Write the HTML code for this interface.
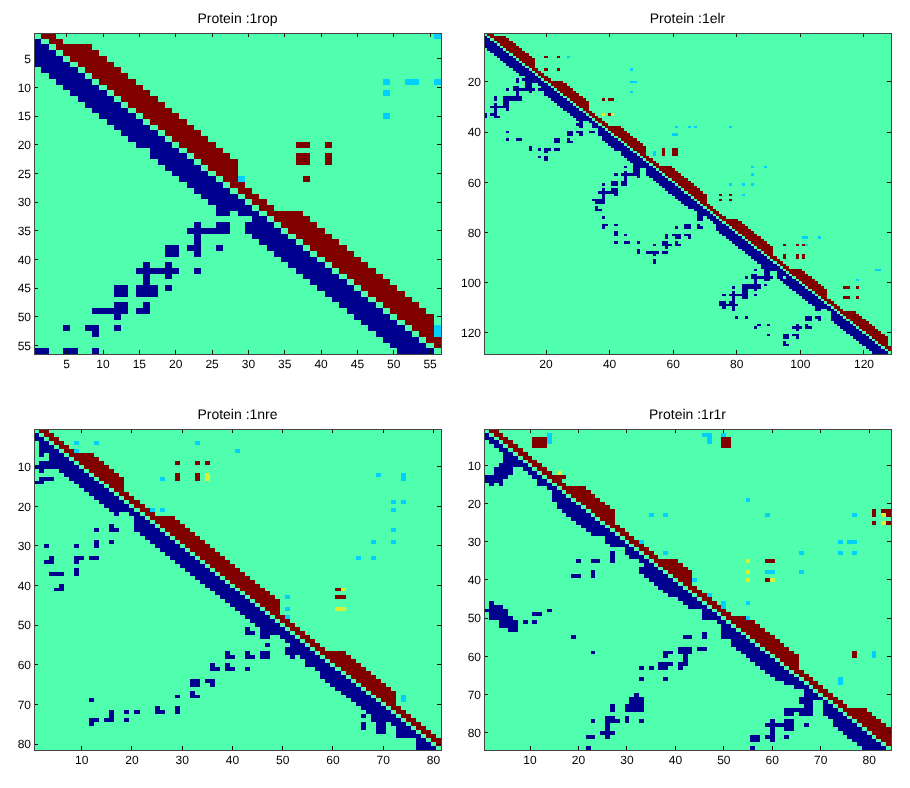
<!DOCTYPE html>
<html><head><meta charset="utf-8"><title>Protein contact maps</title>
<style>
html,body{margin:0;padding:0;background:#fff;}
svg{display:block;will-change:transform;}
.t{font-family:"Liberation Sans",sans-serif;font-size:12px;fill:#000;}
.h{font-family:"Liberation Sans",sans-serif;font-size:14px;fill:#000;}
</style></head><body>
<svg width="910" height="788" viewBox="0 0 910 788" shape-rendering="crispEdges" text-rendering="geometricPrecision">
<rect x="0" y="0" width="910" height="788" fill="#fff"/>
<rect x="34" y="33" width="407" height="321" fill="#50ffad"/>
<rect x="41.27" y="33.00" width="14.54" height="5.73" fill="#800000"/>
<rect x="433.73" y="33.00" width="7.27" height="5.73" fill="#00cfff"/>
<rect x="34.00" y="38.73" width="7.27" height="5.73" fill="#00008f"/>
<rect x="48.54" y="38.73" width="14.54" height="5.73" fill="#800000"/>
<rect x="34.00" y="44.46" width="14.54" height="5.73" fill="#00008f"/>
<rect x="55.80" y="44.46" width="36.34" height="5.73" fill="#800000"/>
<rect x="34.00" y="50.20" width="21.80" height="5.73" fill="#00008f"/>
<rect x="63.07" y="50.20" width="36.34" height="5.73" fill="#800000"/>
<rect x="34.00" y="55.93" width="29.07" height="5.73" fill="#00008f"/>
<rect x="70.34" y="55.93" width="36.34" height="5.73" fill="#800000"/>
<rect x="34.00" y="61.66" width="36.34" height="5.73" fill="#00008f"/>
<rect x="77.61" y="61.66" width="36.34" height="5.73" fill="#800000"/>
<rect x="41.27" y="67.39" width="36.34" height="5.73" fill="#00008f"/>
<rect x="84.88" y="67.39" width="36.34" height="5.73" fill="#800000"/>
<rect x="48.54" y="73.12" width="36.34" height="5.73" fill="#00008f"/>
<rect x="92.14" y="73.12" width="36.34" height="5.73" fill="#800000"/>
<rect x="55.80" y="78.86" width="36.34" height="5.73" fill="#00008f"/>
<rect x="99.41" y="78.86" width="36.34" height="5.73" fill="#800000"/>
<rect x="382.86" y="78.86" width="7.27" height="5.73" fill="#00cfff"/>
<rect x="404.66" y="78.86" width="14.54" height="5.73" fill="#00cfff"/>
<rect x="433.73" y="78.86" width="7.27" height="5.73" fill="#00cfff"/>
<rect x="63.07" y="84.59" width="36.34" height="5.73" fill="#00008f"/>
<rect x="106.68" y="84.59" width="36.34" height="5.73" fill="#800000"/>
<rect x="70.34" y="90.32" width="36.34" height="5.73" fill="#00008f"/>
<rect x="113.95" y="90.32" width="36.34" height="5.73" fill="#800000"/>
<rect x="382.86" y="90.32" width="7.27" height="5.73" fill="#00cfff"/>
<rect x="77.61" y="96.05" width="36.34" height="5.73" fill="#00008f"/>
<rect x="121.21" y="96.05" width="36.34" height="5.73" fill="#800000"/>
<rect x="84.88" y="101.79" width="36.34" height="5.73" fill="#00008f"/>
<rect x="128.48" y="101.79" width="36.34" height="5.73" fill="#800000"/>
<rect x="92.14" y="107.52" width="36.34" height="5.73" fill="#00008f"/>
<rect x="135.75" y="107.52" width="36.34" height="5.73" fill="#800000"/>
<rect x="99.41" y="113.25" width="36.34" height="5.73" fill="#00008f"/>
<rect x="143.02" y="113.25" width="36.34" height="5.73" fill="#800000"/>
<rect x="382.86" y="113.25" width="7.27" height="5.73" fill="#00cfff"/>
<rect x="106.68" y="118.98" width="36.34" height="5.73" fill="#00008f"/>
<rect x="150.29" y="118.98" width="36.34" height="5.73" fill="#800000"/>
<rect x="113.95" y="124.71" width="36.34" height="5.73" fill="#00008f"/>
<rect x="157.55" y="124.71" width="36.34" height="5.73" fill="#800000"/>
<rect x="121.21" y="130.45" width="36.34" height="5.73" fill="#00008f"/>
<rect x="164.82" y="130.45" width="36.34" height="5.73" fill="#800000"/>
<rect x="128.48" y="136.18" width="36.34" height="5.73" fill="#00008f"/>
<rect x="172.09" y="136.18" width="36.34" height="5.73" fill="#800000"/>
<rect x="135.75" y="141.91" width="36.34" height="5.73" fill="#00008f"/>
<rect x="179.36" y="141.91" width="36.34" height="5.73" fill="#800000"/>
<rect x="295.64" y="141.91" width="14.54" height="5.73" fill="#800000"/>
<rect x="324.71" y="141.91" width="7.27" height="5.73" fill="#800000"/>
<rect x="150.29" y="147.64" width="29.07" height="5.73" fill="#00008f"/>
<rect x="186.62" y="147.64" width="36.34" height="5.73" fill="#800000"/>
<rect x="150.29" y="153.38" width="36.34" height="5.73" fill="#00008f"/>
<rect x="193.89" y="153.38" width="36.34" height="5.73" fill="#800000"/>
<rect x="295.64" y="153.38" width="14.54" height="5.73" fill="#800000"/>
<rect x="324.71" y="153.38" width="7.27" height="5.73" fill="#800000"/>
<rect x="157.55" y="159.11" width="36.34" height="5.73" fill="#00008f"/>
<rect x="201.16" y="159.11" width="36.34" height="5.73" fill="#800000"/>
<rect x="295.64" y="159.11" width="14.54" height="5.73" fill="#800000"/>
<rect x="324.71" y="159.11" width="7.27" height="5.73" fill="#800000"/>
<rect x="164.82" y="164.84" width="36.34" height="5.73" fill="#00008f"/>
<rect x="208.43" y="164.84" width="29.07" height="5.73" fill="#800000"/>
<rect x="172.09" y="170.57" width="36.34" height="5.73" fill="#00008f"/>
<rect x="215.70" y="170.57" width="21.80" height="5.73" fill="#800000"/>
<rect x="179.36" y="176.30" width="36.34" height="5.73" fill="#00008f"/>
<rect x="222.96" y="176.30" width="14.54" height="5.73" fill="#800000"/>
<rect x="237.50" y="176.30" width="7.27" height="5.73" fill="#00cfff"/>
<rect x="302.91" y="176.30" width="7.27" height="5.73" fill="#800000"/>
<rect x="186.62" y="182.04" width="36.34" height="5.73" fill="#00008f"/>
<rect x="230.23" y="182.04" width="14.54" height="5.73" fill="#800000"/>
<rect x="193.89" y="187.77" width="36.34" height="5.73" fill="#00008f"/>
<rect x="237.50" y="187.77" width="14.54" height="5.73" fill="#800000"/>
<rect x="201.16" y="193.50" width="36.34" height="5.73" fill="#00008f"/>
<rect x="244.77" y="193.50" width="14.54" height="5.73" fill="#800000"/>
<rect x="208.43" y="199.23" width="36.34" height="5.73" fill="#00008f"/>
<rect x="252.04" y="199.23" width="14.54" height="5.73" fill="#800000"/>
<rect x="215.70" y="204.96" width="36.34" height="5.73" fill="#00008f"/>
<rect x="259.30" y="204.96" width="14.54" height="5.73" fill="#800000"/>
<rect x="215.70" y="210.70" width="14.54" height="5.73" fill="#00008f"/>
<rect x="237.50" y="210.70" width="21.80" height="5.73" fill="#00008f"/>
<rect x="266.57" y="210.70" width="36.34" height="5.73" fill="#800000"/>
<rect x="252.04" y="216.43" width="14.54" height="5.73" fill="#00008f"/>
<rect x="273.84" y="216.43" width="36.34" height="5.73" fill="#800000"/>
<rect x="193.89" y="222.16" width="7.27" height="5.73" fill="#00008f"/>
<rect x="215.70" y="222.16" width="14.54" height="5.73" fill="#00008f"/>
<rect x="244.77" y="222.16" width="29.07" height="5.73" fill="#00008f"/>
<rect x="281.11" y="222.16" width="36.34" height="5.73" fill="#800000"/>
<rect x="186.62" y="227.89" width="43.61" height="5.73" fill="#00008f"/>
<rect x="244.77" y="227.89" width="36.34" height="5.73" fill="#00008f"/>
<rect x="288.38" y="227.89" width="36.34" height="5.73" fill="#800000"/>
<rect x="193.89" y="233.62" width="7.27" height="5.73" fill="#00008f"/>
<rect x="252.04" y="233.62" width="36.34" height="5.73" fill="#00008f"/>
<rect x="295.64" y="233.62" width="36.34" height="5.73" fill="#800000"/>
<rect x="193.89" y="239.36" width="7.27" height="5.73" fill="#00008f"/>
<rect x="259.30" y="239.36" width="36.34" height="5.73" fill="#00008f"/>
<rect x="302.91" y="239.36" width="36.34" height="5.73" fill="#800000"/>
<rect x="164.82" y="245.09" width="14.54" height="5.73" fill="#00008f"/>
<rect x="186.62" y="245.09" width="14.54" height="5.73" fill="#00008f"/>
<rect x="215.70" y="245.09" width="7.27" height="5.73" fill="#00008f"/>
<rect x="266.57" y="245.09" width="36.34" height="5.73" fill="#00008f"/>
<rect x="310.18" y="245.09" width="36.34" height="5.73" fill="#800000"/>
<rect x="164.82" y="250.82" width="14.54" height="5.73" fill="#00008f"/>
<rect x="193.89" y="250.82" width="7.27" height="5.73" fill="#00008f"/>
<rect x="273.84" y="250.82" width="36.34" height="5.73" fill="#00008f"/>
<rect x="317.45" y="250.82" width="36.34" height="5.73" fill="#800000"/>
<rect x="281.11" y="256.55" width="36.34" height="5.73" fill="#00008f"/>
<rect x="324.71" y="256.55" width="36.34" height="5.73" fill="#800000"/>
<rect x="143.02" y="262.29" width="7.27" height="5.73" fill="#00008f"/>
<rect x="164.82" y="262.29" width="7.27" height="5.73" fill="#00008f"/>
<rect x="288.38" y="262.29" width="36.34" height="5.73" fill="#00008f"/>
<rect x="331.98" y="262.29" width="36.34" height="5.73" fill="#800000"/>
<rect x="135.75" y="268.02" width="43.61" height="5.73" fill="#00008f"/>
<rect x="193.89" y="268.02" width="7.27" height="5.73" fill="#00008f"/>
<rect x="295.64" y="268.02" width="36.34" height="5.73" fill="#00008f"/>
<rect x="339.25" y="268.02" width="36.34" height="5.73" fill="#800000"/>
<rect x="143.02" y="273.75" width="7.27" height="5.73" fill="#00008f"/>
<rect x="164.82" y="273.75" width="7.27" height="5.73" fill="#00008f"/>
<rect x="302.91" y="273.75" width="36.34" height="5.73" fill="#00008f"/>
<rect x="346.52" y="273.75" width="36.34" height="5.73" fill="#800000"/>
<rect x="143.02" y="279.48" width="7.27" height="5.73" fill="#00008f"/>
<rect x="310.18" y="279.48" width="36.34" height="5.73" fill="#00008f"/>
<rect x="353.79" y="279.48" width="36.34" height="5.73" fill="#800000"/>
<rect x="113.95" y="285.21" width="14.54" height="5.73" fill="#00008f"/>
<rect x="135.75" y="285.21" width="21.80" height="5.73" fill="#00008f"/>
<rect x="164.82" y="285.21" width="7.27" height="5.73" fill="#00008f"/>
<rect x="317.45" y="285.21" width="36.34" height="5.73" fill="#00008f"/>
<rect x="361.05" y="285.21" width="36.34" height="5.73" fill="#800000"/>
<rect x="113.95" y="290.95" width="14.54" height="5.73" fill="#00008f"/>
<rect x="135.75" y="290.95" width="21.80" height="5.73" fill="#00008f"/>
<rect x="324.71" y="290.95" width="36.34" height="5.73" fill="#00008f"/>
<rect x="368.32" y="290.95" width="36.34" height="5.73" fill="#800000"/>
<rect x="331.98" y="296.68" width="36.34" height="5.73" fill="#00008f"/>
<rect x="375.59" y="296.68" width="36.34" height="5.73" fill="#800000"/>
<rect x="113.95" y="302.41" width="14.54" height="5.73" fill="#00008f"/>
<rect x="143.02" y="302.41" width="7.27" height="5.73" fill="#00008f"/>
<rect x="339.25" y="302.41" width="36.34" height="5.73" fill="#00008f"/>
<rect x="382.86" y="302.41" width="36.34" height="5.73" fill="#800000"/>
<rect x="92.14" y="308.14" width="36.34" height="5.73" fill="#00008f"/>
<rect x="135.75" y="308.14" width="14.54" height="5.73" fill="#00008f"/>
<rect x="346.52" y="308.14" width="36.34" height="5.73" fill="#00008f"/>
<rect x="390.12" y="308.14" width="36.34" height="5.73" fill="#800000"/>
<rect x="113.95" y="313.88" width="7.27" height="5.73" fill="#00008f"/>
<rect x="353.79" y="313.88" width="36.34" height="5.73" fill="#00008f"/>
<rect x="397.39" y="313.88" width="36.34" height="5.73" fill="#800000"/>
<rect x="361.05" y="319.61" width="36.34" height="5.73" fill="#00008f"/>
<rect x="404.66" y="319.61" width="29.07" height="5.73" fill="#800000"/>
<rect x="63.07" y="325.34" width="7.27" height="5.73" fill="#00008f"/>
<rect x="84.88" y="325.34" width="14.54" height="5.73" fill="#00008f"/>
<rect x="113.95" y="325.34" width="7.27" height="5.73" fill="#00008f"/>
<rect x="368.32" y="325.34" width="36.34" height="5.73" fill="#00008f"/>
<rect x="411.93" y="325.34" width="21.80" height="5.73" fill="#800000"/>
<rect x="433.73" y="325.34" width="7.27" height="5.73" fill="#00cfff"/>
<rect x="92.14" y="331.07" width="7.27" height="5.73" fill="#00008f"/>
<rect x="375.59" y="331.07" width="36.34" height="5.73" fill="#00008f"/>
<rect x="419.20" y="331.07" width="14.54" height="5.73" fill="#800000"/>
<rect x="433.73" y="331.07" width="7.27" height="5.73" fill="#00cfff"/>
<rect x="382.86" y="336.80" width="36.34" height="5.73" fill="#00008f"/>
<rect x="426.46" y="336.80" width="14.54" height="5.73" fill="#800000"/>
<rect x="390.12" y="342.54" width="36.34" height="5.73" fill="#00008f"/>
<rect x="433.73" y="342.54" width="7.27" height="5.73" fill="#800000"/>
<rect x="34.00" y="348.27" width="14.54" height="5.73" fill="#00008f"/>
<rect x="63.07" y="348.27" width="14.54" height="5.73" fill="#00008f"/>
<rect x="92.14" y="348.27" width="7.27" height="5.73" fill="#00008f"/>
<rect x="397.39" y="348.27" width="36.34" height="5.73" fill="#00008f"/>
<path d="M66.71 354.00v-4M66.71 33.00v4M34.00 58.79h4M441.00 58.79h-4M103.04 354.00v-4M103.04 33.00v4M34.00 87.46h4M441.00 87.46h-4M139.38 354.00v-4M139.38 33.00v4M34.00 116.12h4M441.00 116.12h-4M175.72 354.00v-4M175.72 33.00v4M34.00 144.78h4M441.00 144.78h-4M212.06 354.00v-4M212.06 33.00v4M34.00 173.44h4M441.00 173.44h-4M248.40 354.00v-4M248.40 33.00v4M34.00 202.10h4M441.00 202.10h-4M284.74 354.00v-4M284.74 33.00v4M34.00 230.76h4M441.00 230.76h-4M321.08 354.00v-4M321.08 33.00v4M34.00 259.42h4M441.00 259.42h-4M357.42 354.00v-4M357.42 33.00v4M34.00 288.08h4M441.00 288.08h-4M393.76 354.00v-4M393.76 33.00v4M34.00 316.74h4M441.00 316.74h-4M430.10 354.00v-4M430.10 33.00v4M34.00 345.40h4M441.00 345.40h-4" stroke="#111" stroke-width="1" fill="none"/>
<rect x="34" y="33" width="407" height="321" fill="none" stroke="#444" stroke-width="1"/>
<text x="66.71" y="368.10" text-anchor="middle" class="t">5</text>
<text x="31.00" y="63.09" text-anchor="end" class="t">5</text>
<text x="103.04" y="368.10" text-anchor="middle" class="t">10</text>
<text x="31.00" y="91.76" text-anchor="end" class="t">10</text>
<text x="139.38" y="368.10" text-anchor="middle" class="t">15</text>
<text x="31.00" y="120.42" text-anchor="end" class="t">15</text>
<text x="175.72" y="368.10" text-anchor="middle" class="t">20</text>
<text x="31.00" y="149.08" text-anchor="end" class="t">20</text>
<text x="212.06" y="368.10" text-anchor="middle" class="t">25</text>
<text x="31.00" y="177.74" text-anchor="end" class="t">25</text>
<text x="248.40" y="368.10" text-anchor="middle" class="t">30</text>
<text x="31.00" y="206.40" text-anchor="end" class="t">30</text>
<text x="284.74" y="368.10" text-anchor="middle" class="t">35</text>
<text x="31.00" y="235.06" text-anchor="end" class="t">35</text>
<text x="321.08" y="368.10" text-anchor="middle" class="t">40</text>
<text x="31.00" y="263.72" text-anchor="end" class="t">40</text>
<text x="357.42" y="368.10" text-anchor="middle" class="t">45</text>
<text x="31.00" y="292.38" text-anchor="end" class="t">45</text>
<text x="393.76" y="368.10" text-anchor="middle" class="t">50</text>
<text x="31.00" y="321.04" text-anchor="end" class="t">50</text>
<text x="430.10" y="368.10" text-anchor="middle" class="t">55</text>
<text x="31.00" y="349.70" text-anchor="end" class="t">55</text>
<text x="237.50" y="23.40" text-anchor="middle" class="h">Protein :1rop</text>
<rect x="484" y="33" width="407" height="321" fill="#50ffad"/>
<rect x="487.18" y="33.00" width="6.36" height="2.51" fill="#800000"/>
<rect x="484.00" y="35.51" width="3.18" height="2.51" fill="#00008f"/>
<rect x="490.36" y="35.51" width="15.90" height="2.51" fill="#800000"/>
<rect x="484.00" y="38.02" width="6.36" height="2.51" fill="#00008f"/>
<rect x="493.54" y="38.02" width="15.90" height="2.51" fill="#800000"/>
<rect x="484.00" y="40.52" width="9.54" height="2.51" fill="#00008f"/>
<rect x="496.72" y="40.52" width="15.90" height="2.51" fill="#800000"/>
<rect x="484.00" y="43.03" width="12.72" height="2.51" fill="#00008f"/>
<rect x="499.90" y="43.03" width="15.90" height="2.51" fill="#800000"/>
<rect x="484.00" y="45.54" width="15.90" height="2.51" fill="#00008f"/>
<rect x="503.08" y="45.54" width="15.90" height="2.51" fill="#800000"/>
<rect x="487.18" y="48.05" width="15.90" height="2.51" fill="#00008f"/>
<rect x="506.26" y="48.05" width="15.90" height="2.51" fill="#800000"/>
<rect x="490.36" y="50.55" width="15.90" height="2.51" fill="#00008f"/>
<rect x="509.44" y="50.55" width="15.90" height="2.51" fill="#800000"/>
<rect x="493.54" y="53.06" width="15.90" height="2.51" fill="#00008f"/>
<rect x="512.62" y="53.06" width="15.90" height="2.51" fill="#800000"/>
<rect x="496.72" y="55.57" width="15.90" height="2.51" fill="#00008f"/>
<rect x="515.80" y="55.57" width="15.90" height="2.51" fill="#800000"/>
<rect x="544.41" y="55.57" width="3.18" height="2.51" fill="#800000"/>
<rect x="557.13" y="55.57" width="3.18" height="2.51" fill="#800000"/>
<rect x="566.67" y="55.57" width="3.18" height="2.51" fill="#00cfff"/>
<rect x="499.90" y="58.08" width="15.90" height="2.51" fill="#00008f"/>
<rect x="518.98" y="58.08" width="15.90" height="2.51" fill="#800000"/>
<rect x="503.08" y="60.59" width="15.90" height="2.51" fill="#00008f"/>
<rect x="522.16" y="60.59" width="12.72" height="2.51" fill="#800000"/>
<rect x="506.26" y="63.09" width="15.90" height="2.51" fill="#00008f"/>
<rect x="525.34" y="63.09" width="9.54" height="2.51" fill="#800000"/>
<rect x="509.44" y="65.60" width="15.90" height="2.51" fill="#00008f"/>
<rect x="528.52" y="65.60" width="6.36" height="2.51" fill="#800000"/>
<rect x="512.62" y="68.11" width="15.90" height="2.51" fill="#00008f"/>
<rect x="531.70" y="68.11" width="6.36" height="2.51" fill="#800000"/>
<rect x="544.41" y="68.11" width="3.18" height="2.51" fill="#800000"/>
<rect x="557.13" y="68.11" width="3.18" height="2.51" fill="#800000"/>
<rect x="630.27" y="68.11" width="3.18" height="2.51" fill="#00cfff"/>
<rect x="515.80" y="70.62" width="15.90" height="2.51" fill="#00008f"/>
<rect x="534.88" y="70.62" width="6.36" height="2.51" fill="#800000"/>
<rect x="518.98" y="73.12" width="15.90" height="2.51" fill="#00008f"/>
<rect x="538.05" y="73.12" width="6.36" height="2.51" fill="#800000"/>
<rect x="525.34" y="75.63" width="12.72" height="2.51" fill="#00008f"/>
<rect x="541.23" y="75.63" width="6.36" height="2.51" fill="#800000"/>
<rect x="515.80" y="78.14" width="3.18" height="2.51" fill="#00008f"/>
<rect x="522.16" y="78.14" width="19.08" height="2.51" fill="#00008f"/>
<rect x="544.41" y="78.14" width="6.36" height="2.51" fill="#800000"/>
<rect x="515.80" y="80.65" width="3.18" height="2.51" fill="#00008f"/>
<rect x="525.34" y="80.65" width="19.08" height="2.51" fill="#00008f"/>
<rect x="547.59" y="80.65" width="15.90" height="2.51" fill="#800000"/>
<rect x="630.27" y="80.65" width="6.36" height="2.51" fill="#00cfff"/>
<rect x="525.34" y="83.16" width="6.36" height="2.51" fill="#00008f"/>
<rect x="538.05" y="83.16" width="9.54" height="2.51" fill="#00008f"/>
<rect x="550.77" y="83.16" width="15.90" height="2.51" fill="#800000"/>
<rect x="512.62" y="85.66" width="6.36" height="2.51" fill="#00008f"/>
<rect x="525.34" y="85.66" width="6.36" height="2.51" fill="#00008f"/>
<rect x="541.23" y="85.66" width="9.54" height="2.51" fill="#00008f"/>
<rect x="553.95" y="85.66" width="15.90" height="2.51" fill="#800000"/>
<rect x="506.26" y="88.17" width="3.18" height="2.51" fill="#00008f"/>
<rect x="512.62" y="88.17" width="22.26" height="2.51" fill="#00008f"/>
<rect x="538.05" y="88.17" width="15.90" height="2.51" fill="#00008f"/>
<rect x="557.13" y="88.17" width="15.90" height="2.51" fill="#800000"/>
<rect x="515.80" y="90.68" width="3.18" height="2.51" fill="#00008f"/>
<rect x="528.52" y="90.68" width="3.18" height="2.51" fill="#00008f"/>
<rect x="544.41" y="90.68" width="12.72" height="2.51" fill="#00008f"/>
<rect x="560.31" y="90.68" width="15.90" height="2.51" fill="#800000"/>
<rect x="630.27" y="90.68" width="3.18" height="2.51" fill="#00cfff"/>
<rect x="515.80" y="93.19" width="3.18" height="2.51" fill="#00008f"/>
<rect x="544.41" y="93.19" width="15.90" height="2.51" fill="#00008f"/>
<rect x="563.49" y="93.19" width="15.90" height="2.51" fill="#800000"/>
<rect x="493.54" y="95.70" width="3.18" height="2.51" fill="#00008f"/>
<rect x="503.08" y="95.70" width="19.08" height="2.51" fill="#00008f"/>
<rect x="547.59" y="95.70" width="15.90" height="2.51" fill="#00008f"/>
<rect x="566.67" y="95.70" width="15.90" height="2.51" fill="#800000"/>
<rect x="493.54" y="98.20" width="3.18" height="2.51" fill="#00008f"/>
<rect x="503.08" y="98.20" width="19.08" height="2.51" fill="#00008f"/>
<rect x="550.77" y="98.20" width="15.90" height="2.51" fill="#00008f"/>
<rect x="569.85" y="98.20" width="15.90" height="2.51" fill="#800000"/>
<rect x="601.65" y="98.20" width="3.18" height="2.51" fill="#800000"/>
<rect x="608.01" y="98.20" width="6.36" height="2.51" fill="#800000"/>
<rect x="503.08" y="100.71" width="6.36" height="2.51" fill="#00008f"/>
<rect x="553.95" y="100.71" width="15.90" height="2.51" fill="#00008f"/>
<rect x="573.03" y="100.71" width="15.90" height="2.51" fill="#800000"/>
<rect x="493.54" y="103.22" width="3.18" height="2.51" fill="#00008f"/>
<rect x="503.08" y="103.22" width="6.36" height="2.51" fill="#00008f"/>
<rect x="557.13" y="103.22" width="15.90" height="2.51" fill="#00008f"/>
<rect x="576.21" y="103.22" width="12.72" height="2.51" fill="#800000"/>
<rect x="490.36" y="105.73" width="19.08" height="2.51" fill="#00008f"/>
<rect x="560.31" y="105.73" width="15.90" height="2.51" fill="#00008f"/>
<rect x="579.39" y="105.73" width="9.54" height="2.51" fill="#800000"/>
<rect x="493.54" y="108.23" width="3.18" height="2.51" fill="#00008f"/>
<rect x="506.26" y="108.23" width="3.18" height="2.51" fill="#00008f"/>
<rect x="563.49" y="108.23" width="15.90" height="2.51" fill="#00008f"/>
<rect x="582.57" y="108.23" width="6.36" height="2.51" fill="#800000"/>
<rect x="493.54" y="110.74" width="3.18" height="2.51" fill="#00008f"/>
<rect x="566.67" y="110.74" width="15.90" height="2.51" fill="#00008f"/>
<rect x="585.75" y="110.74" width="6.36" height="2.51" fill="#800000"/>
<rect x="484.00" y="113.25" width="3.18" height="2.51" fill="#00008f"/>
<rect x="490.36" y="113.25" width="6.36" height="2.51" fill="#00008f"/>
<rect x="569.85" y="113.25" width="15.90" height="2.51" fill="#00008f"/>
<rect x="588.93" y="113.25" width="6.36" height="2.51" fill="#800000"/>
<rect x="601.65" y="113.25" width="3.18" height="2.51" fill="#d8f030"/>
<rect x="608.01" y="113.25" width="3.18" height="2.51" fill="#800000"/>
<rect x="611.19" y="113.25" width="3.18" height="2.51" fill="#d8f030"/>
<rect x="484.00" y="115.76" width="3.18" height="2.51" fill="#00008f"/>
<rect x="493.54" y="115.76" width="6.36" height="2.51" fill="#00008f"/>
<rect x="573.03" y="115.76" width="15.90" height="2.51" fill="#00008f"/>
<rect x="592.11" y="115.76" width="6.36" height="2.51" fill="#800000"/>
<rect x="576.21" y="118.27" width="15.90" height="2.51" fill="#00008f"/>
<rect x="595.29" y="118.27" width="6.36" height="2.51" fill="#800000"/>
<rect x="579.39" y="120.77" width="3.18" height="2.51" fill="#00008f"/>
<rect x="588.93" y="120.77" width="6.36" height="2.51" fill="#00008f"/>
<rect x="598.47" y="120.77" width="6.36" height="2.51" fill="#800000"/>
<rect x="576.21" y="123.28" width="6.36" height="2.51" fill="#00008f"/>
<rect x="592.11" y="123.28" width="6.36" height="2.51" fill="#00008f"/>
<rect x="601.65" y="123.28" width="6.36" height="2.51" fill="#800000"/>
<rect x="579.39" y="125.79" width="3.18" height="2.51" fill="#00008f"/>
<rect x="592.11" y="125.79" width="9.54" height="2.51" fill="#00008f"/>
<rect x="604.83" y="125.79" width="15.90" height="2.51" fill="#800000"/>
<rect x="674.78" y="125.79" width="3.18" height="2.51" fill="#00cfff"/>
<rect x="687.50" y="125.79" width="3.18" height="2.51" fill="#00cfff"/>
<rect x="693.86" y="125.79" width="3.18" height="2.51" fill="#00cfff"/>
<rect x="728.84" y="125.79" width="3.18" height="2.51" fill="#00cfff"/>
<rect x="598.47" y="128.30" width="6.36" height="2.51" fill="#00008f"/>
<rect x="608.01" y="128.30" width="15.90" height="2.51" fill="#800000"/>
<rect x="506.26" y="130.80" width="3.18" height="2.51" fill="#00008f"/>
<rect x="566.67" y="130.80" width="6.36" height="2.51" fill="#00008f"/>
<rect x="576.21" y="130.80" width="6.36" height="2.51" fill="#00008f"/>
<rect x="588.93" y="130.80" width="6.36" height="2.51" fill="#00008f"/>
<rect x="598.47" y="130.80" width="9.54" height="2.51" fill="#00008f"/>
<rect x="611.19" y="130.80" width="15.90" height="2.51" fill="#800000"/>
<rect x="566.67" y="133.31" width="6.36" height="2.51" fill="#00008f"/>
<rect x="579.39" y="133.31" width="3.18" height="2.51" fill="#00008f"/>
<rect x="598.47" y="133.31" width="12.72" height="2.51" fill="#00008f"/>
<rect x="614.37" y="133.31" width="15.90" height="2.51" fill="#800000"/>
<rect x="671.60" y="133.31" width="6.36" height="2.51" fill="#00cfff"/>
<rect x="601.65" y="135.82" width="12.72" height="2.51" fill="#00008f"/>
<rect x="617.55" y="135.82" width="15.90" height="2.51" fill="#800000"/>
<rect x="506.26" y="138.33" width="3.18" height="2.51" fill="#00008f"/>
<rect x="515.80" y="138.33" width="6.36" height="2.51" fill="#00008f"/>
<rect x="553.95" y="138.33" width="6.36" height="2.51" fill="#00008f"/>
<rect x="566.67" y="138.33" width="3.18" height="2.51" fill="#00008f"/>
<rect x="601.65" y="138.33" width="15.90" height="2.51" fill="#00008f"/>
<rect x="620.73" y="138.33" width="15.90" height="2.51" fill="#800000"/>
<rect x="553.95" y="140.84" width="6.36" height="2.51" fill="#00008f"/>
<rect x="566.67" y="140.84" width="6.36" height="2.51" fill="#00008f"/>
<rect x="604.83" y="140.84" width="15.90" height="2.51" fill="#00008f"/>
<rect x="623.91" y="140.84" width="15.90" height="2.51" fill="#800000"/>
<rect x="608.01" y="143.34" width="15.90" height="2.51" fill="#00008f"/>
<rect x="627.09" y="143.34" width="15.90" height="2.51" fill="#800000"/>
<rect x="528.52" y="145.85" width="3.18" height="2.51" fill="#00008f"/>
<rect x="611.19" y="145.85" width="15.90" height="2.51" fill="#00008f"/>
<rect x="630.27" y="145.85" width="15.90" height="2.51" fill="#800000"/>
<rect x="528.52" y="148.36" width="3.18" height="2.51" fill="#00008f"/>
<rect x="538.05" y="148.36" width="3.18" height="2.51" fill="#00008f"/>
<rect x="544.41" y="148.36" width="6.36" height="2.51" fill="#00008f"/>
<rect x="553.95" y="148.36" width="6.36" height="2.51" fill="#00008f"/>
<rect x="614.37" y="148.36" width="15.90" height="2.51" fill="#00008f"/>
<rect x="633.45" y="148.36" width="12.72" height="2.51" fill="#800000"/>
<rect x="662.06" y="148.36" width="3.18" height="2.51" fill="#800000"/>
<rect x="671.60" y="148.36" width="6.36" height="2.51" fill="#800000"/>
<rect x="544.41" y="150.87" width="3.18" height="2.51" fill="#00008f"/>
<rect x="620.73" y="150.87" width="12.72" height="2.51" fill="#00008f"/>
<rect x="636.62" y="150.87" width="9.54" height="2.51" fill="#800000"/>
<rect x="652.52" y="150.87" width="3.18" height="2.51" fill="#00cfff"/>
<rect x="662.06" y="150.87" width="3.18" height="2.51" fill="#800000"/>
<rect x="671.60" y="150.87" width="6.36" height="2.51" fill="#800000"/>
<rect x="620.73" y="153.38" width="15.90" height="2.51" fill="#00008f"/>
<rect x="639.80" y="153.38" width="6.36" height="2.51" fill="#800000"/>
<rect x="652.52" y="153.38" width="3.18" height="2.51" fill="#00cfff"/>
<rect x="662.06" y="153.38" width="3.18" height="2.51" fill="#800000"/>
<rect x="671.60" y="153.38" width="6.36" height="2.51" fill="#800000"/>
<rect x="538.05" y="155.88" width="3.18" height="2.51" fill="#00008f"/>
<rect x="544.41" y="155.88" width="3.18" height="2.51" fill="#00008f"/>
<rect x="623.91" y="155.88" width="15.90" height="2.51" fill="#00008f"/>
<rect x="642.98" y="155.88" width="6.36" height="2.51" fill="#800000"/>
<rect x="544.41" y="158.39" width="3.18" height="2.51" fill="#00008f"/>
<rect x="627.09" y="158.39" width="15.90" height="2.51" fill="#00008f"/>
<rect x="646.16" y="158.39" width="6.36" height="2.51" fill="#800000"/>
<rect x="630.27" y="160.90" width="15.90" height="2.51" fill="#00008f"/>
<rect x="649.34" y="160.90" width="6.36" height="2.51" fill="#800000"/>
<rect x="633.45" y="163.41" width="15.90" height="2.51" fill="#00008f"/>
<rect x="652.52" y="163.41" width="6.36" height="2.51" fill="#800000"/>
<rect x="623.91" y="165.91" width="3.18" height="2.51" fill="#00008f"/>
<rect x="633.45" y="165.91" width="19.08" height="2.51" fill="#00008f"/>
<rect x="655.70" y="165.91" width="15.90" height="2.51" fill="#800000"/>
<rect x="751.09" y="165.91" width="3.18" height="2.51" fill="#00cfff"/>
<rect x="763.81" y="165.91" width="3.18" height="2.51" fill="#00cfff"/>
<rect x="633.45" y="168.42" width="6.36" height="2.51" fill="#00008f"/>
<rect x="646.16" y="168.42" width="9.54" height="2.51" fill="#00008f"/>
<rect x="658.88" y="168.42" width="15.90" height="2.51" fill="#800000"/>
<rect x="623.91" y="170.93" width="3.18" height="2.51" fill="#00008f"/>
<rect x="633.45" y="170.93" width="6.36" height="2.51" fill="#00008f"/>
<rect x="646.16" y="170.93" width="12.72" height="2.51" fill="#00008f"/>
<rect x="662.06" y="170.93" width="15.90" height="2.51" fill="#800000"/>
<rect x="614.37" y="173.44" width="3.18" height="2.51" fill="#00008f"/>
<rect x="620.73" y="173.44" width="19.08" height="2.51" fill="#00008f"/>
<rect x="646.16" y="173.44" width="15.90" height="2.51" fill="#00008f"/>
<rect x="665.24" y="173.44" width="15.90" height="2.51" fill="#800000"/>
<rect x="751.09" y="173.44" width="3.18" height="2.51" fill="#00cfff"/>
<rect x="623.91" y="175.95" width="3.18" height="2.51" fill="#00008f"/>
<rect x="636.62" y="175.95" width="3.18" height="2.51" fill="#00008f"/>
<rect x="649.34" y="175.95" width="15.90" height="2.51" fill="#00008f"/>
<rect x="668.42" y="175.95" width="15.90" height="2.51" fill="#800000"/>
<rect x="623.91" y="178.45" width="3.18" height="2.51" fill="#00008f"/>
<rect x="652.52" y="178.45" width="15.90" height="2.51" fill="#00008f"/>
<rect x="671.60" y="178.45" width="15.90" height="2.51" fill="#800000"/>
<rect x="611.19" y="180.96" width="6.36" height="2.51" fill="#00008f"/>
<rect x="620.73" y="180.96" width="6.36" height="2.51" fill="#00008f"/>
<rect x="655.70" y="180.96" width="15.90" height="2.51" fill="#00008f"/>
<rect x="674.78" y="180.96" width="15.90" height="2.51" fill="#800000"/>
<rect x="601.65" y="183.47" width="3.18" height="2.51" fill="#00008f"/>
<rect x="611.19" y="183.47" width="6.36" height="2.51" fill="#00008f"/>
<rect x="620.73" y="183.47" width="6.36" height="2.51" fill="#00008f"/>
<rect x="658.88" y="183.47" width="15.90" height="2.51" fill="#00008f"/>
<rect x="677.96" y="183.47" width="15.90" height="2.51" fill="#800000"/>
<rect x="728.84" y="183.47" width="3.18" height="2.51" fill="#00cfff"/>
<rect x="741.55" y="183.47" width="3.18" height="2.51" fill="#00cfff"/>
<rect x="751.09" y="183.47" width="3.18" height="2.51" fill="#00cfff"/>
<rect x="662.06" y="185.98" width="15.90" height="2.51" fill="#00008f"/>
<rect x="681.14" y="185.98" width="15.90" height="2.51" fill="#800000"/>
<rect x="601.65" y="188.48" width="3.18" height="2.51" fill="#00008f"/>
<rect x="611.19" y="188.48" width="6.36" height="2.51" fill="#00008f"/>
<rect x="665.24" y="188.48" width="15.90" height="2.51" fill="#00008f"/>
<rect x="684.32" y="188.48" width="15.90" height="2.51" fill="#800000"/>
<rect x="598.47" y="190.99" width="19.08" height="2.51" fill="#00008f"/>
<rect x="668.42" y="190.99" width="15.90" height="2.51" fill="#00008f"/>
<rect x="687.50" y="190.99" width="15.90" height="2.51" fill="#800000"/>
<rect x="601.65" y="193.50" width="3.18" height="2.51" fill="#00008f"/>
<rect x="614.37" y="193.50" width="3.18" height="2.51" fill="#00008f"/>
<rect x="671.60" y="193.50" width="15.90" height="2.51" fill="#00008f"/>
<rect x="690.68" y="193.50" width="15.90" height="2.51" fill="#800000"/>
<rect x="719.30" y="193.50" width="3.18" height="2.51" fill="#800000"/>
<rect x="728.84" y="193.50" width="3.18" height="2.51" fill="#800000"/>
<rect x="741.55" y="193.50" width="3.18" height="2.51" fill="#00cfff"/>
<rect x="601.65" y="196.01" width="3.18" height="2.51" fill="#00008f"/>
<rect x="674.78" y="196.01" width="15.90" height="2.51" fill="#00008f"/>
<rect x="693.86" y="196.01" width="12.72" height="2.51" fill="#800000"/>
<rect x="592.11" y="198.52" width="12.72" height="2.51" fill="#00008f"/>
<rect x="677.96" y="198.52" width="15.90" height="2.51" fill="#00008f"/>
<rect x="697.04" y="198.52" width="9.54" height="2.51" fill="#800000"/>
<rect x="719.30" y="198.52" width="3.18" height="2.51" fill="#800000"/>
<rect x="728.84" y="198.52" width="3.18" height="2.51" fill="#800000"/>
<rect x="595.29" y="201.02" width="9.54" height="2.51" fill="#00008f"/>
<rect x="681.14" y="201.02" width="15.90" height="2.51" fill="#00008f"/>
<rect x="700.22" y="201.02" width="6.36" height="2.51" fill="#800000"/>
<rect x="684.32" y="203.53" width="15.90" height="2.51" fill="#00008f"/>
<rect x="703.40" y="203.53" width="6.36" height="2.51" fill="#800000"/>
<rect x="595.29" y="206.04" width="3.18" height="2.51" fill="#00008f"/>
<rect x="687.50" y="206.04" width="15.90" height="2.51" fill="#00008f"/>
<rect x="706.58" y="206.04" width="6.36" height="2.51" fill="#800000"/>
<rect x="595.29" y="208.55" width="6.36" height="2.51" fill="#00008f"/>
<rect x="693.86" y="208.55" width="12.72" height="2.51" fill="#00008f"/>
<rect x="709.76" y="208.55" width="6.36" height="2.51" fill="#800000"/>
<rect x="697.04" y="211.05" width="12.72" height="2.51" fill="#00008f"/>
<rect x="712.94" y="211.05" width="6.36" height="2.51" fill="#800000"/>
<rect x="697.04" y="213.56" width="15.90" height="2.51" fill="#00008f"/>
<rect x="716.12" y="213.56" width="6.36" height="2.51" fill="#800000"/>
<rect x="601.65" y="216.07" width="3.18" height="2.51" fill="#00008f"/>
<rect x="697.04" y="216.07" width="6.36" height="2.51" fill="#00008f"/>
<rect x="706.58" y="216.07" width="9.54" height="2.51" fill="#00008f"/>
<rect x="719.30" y="216.07" width="6.36" height="2.51" fill="#800000"/>
<rect x="697.04" y="218.58" width="6.36" height="2.51" fill="#00008f"/>
<rect x="709.76" y="218.58" width="9.54" height="2.51" fill="#00008f"/>
<rect x="722.48" y="218.58" width="15.90" height="2.51" fill="#800000"/>
<rect x="712.94" y="221.09" width="9.54" height="2.51" fill="#00008f"/>
<rect x="725.66" y="221.09" width="15.90" height="2.51" fill="#800000"/>
<rect x="601.65" y="223.59" width="6.36" height="2.51" fill="#00008f"/>
<rect x="614.37" y="223.59" width="3.18" height="2.51" fill="#00008f"/>
<rect x="684.32" y="223.59" width="6.36" height="2.51" fill="#00008f"/>
<rect x="697.04" y="223.59" width="3.18" height="2.51" fill="#00008f"/>
<rect x="716.12" y="223.59" width="9.54" height="2.51" fill="#00008f"/>
<rect x="728.84" y="223.59" width="15.90" height="2.51" fill="#800000"/>
<rect x="601.65" y="226.10" width="3.18" height="2.51" fill="#00008f"/>
<rect x="674.78" y="226.10" width="3.18" height="2.51" fill="#00008f"/>
<rect x="684.32" y="226.10" width="6.36" height="2.51" fill="#00008f"/>
<rect x="697.04" y="226.10" width="6.36" height="2.51" fill="#00008f"/>
<rect x="716.12" y="226.10" width="12.72" height="2.51" fill="#00008f"/>
<rect x="732.02" y="226.10" width="15.90" height="2.51" fill="#800000"/>
<rect x="716.12" y="228.61" width="15.90" height="2.51" fill="#00008f"/>
<rect x="735.20" y="228.61" width="15.90" height="2.51" fill="#800000"/>
<rect x="614.37" y="231.12" width="3.18" height="2.51" fill="#00008f"/>
<rect x="719.30" y="231.12" width="15.90" height="2.51" fill="#00008f"/>
<rect x="738.38" y="231.12" width="15.90" height="2.51" fill="#800000"/>
<rect x="614.37" y="233.62" width="3.18" height="2.51" fill="#00008f"/>
<rect x="623.91" y="233.62" width="3.18" height="2.51" fill="#00008f"/>
<rect x="665.24" y="233.62" width="3.18" height="2.51" fill="#00008f"/>
<rect x="671.60" y="233.62" width="9.54" height="2.51" fill="#00008f"/>
<rect x="684.32" y="233.62" width="6.36" height="2.51" fill="#00008f"/>
<rect x="722.48" y="233.62" width="15.90" height="2.51" fill="#00008f"/>
<rect x="741.55" y="233.62" width="15.90" height="2.51" fill="#800000"/>
<rect x="665.24" y="236.13" width="3.18" height="2.51" fill="#00008f"/>
<rect x="674.78" y="236.13" width="6.36" height="2.51" fill="#00008f"/>
<rect x="687.50" y="236.13" width="3.18" height="2.51" fill="#00008f"/>
<rect x="725.66" y="236.13" width="15.90" height="2.51" fill="#00008f"/>
<rect x="744.73" y="236.13" width="15.90" height="2.51" fill="#800000"/>
<rect x="801.97" y="236.13" width="6.36" height="2.51" fill="#00cfff"/>
<rect x="817.87" y="236.13" width="3.18" height="2.51" fill="#00cfff"/>
<rect x="728.84" y="238.64" width="15.90" height="2.51" fill="#00008f"/>
<rect x="747.91" y="238.64" width="15.90" height="2.51" fill="#800000"/>
<rect x="614.37" y="241.15" width="3.18" height="2.51" fill="#00008f"/>
<rect x="623.91" y="241.15" width="6.36" height="2.51" fill="#00008f"/>
<rect x="636.62" y="241.15" width="3.18" height="2.51" fill="#00008f"/>
<rect x="662.06" y="241.15" width="6.36" height="2.51" fill="#00008f"/>
<rect x="674.78" y="241.15" width="3.18" height="2.51" fill="#00008f"/>
<rect x="732.02" y="241.15" width="15.90" height="2.51" fill="#00008f"/>
<rect x="751.09" y="241.15" width="15.90" height="2.51" fill="#800000"/>
<rect x="652.52" y="243.66" width="3.18" height="2.51" fill="#00008f"/>
<rect x="662.06" y="243.66" width="9.54" height="2.51" fill="#00008f"/>
<rect x="674.78" y="243.66" width="6.36" height="2.51" fill="#00008f"/>
<rect x="735.20" y="243.66" width="15.90" height="2.51" fill="#00008f"/>
<rect x="754.27" y="243.66" width="15.90" height="2.51" fill="#800000"/>
<rect x="782.89" y="243.66" width="3.18" height="2.51" fill="#800000"/>
<rect x="795.61" y="243.66" width="3.18" height="2.51" fill="#800000"/>
<rect x="801.97" y="243.66" width="3.18" height="2.51" fill="#800000"/>
<rect x="805.15" y="243.66" width="3.18" height="2.51" fill="#00cfff"/>
<rect x="665.24" y="246.16" width="3.18" height="2.51" fill="#00008f"/>
<rect x="738.38" y="246.16" width="15.90" height="2.51" fill="#00008f"/>
<rect x="757.45" y="246.16" width="15.90" height="2.51" fill="#800000"/>
<rect x="636.62" y="248.67" width="3.18" height="2.51" fill="#00008f"/>
<rect x="741.55" y="248.67" width="15.90" height="2.51" fill="#00008f"/>
<rect x="760.63" y="248.67" width="12.72" height="2.51" fill="#800000"/>
<rect x="636.62" y="251.18" width="3.18" height="2.51" fill="#00008f"/>
<rect x="646.16" y="251.18" width="12.72" height="2.51" fill="#00008f"/>
<rect x="662.06" y="251.18" width="6.36" height="2.51" fill="#00008f"/>
<rect x="744.73" y="251.18" width="15.90" height="2.51" fill="#00008f"/>
<rect x="763.81" y="251.18" width="9.54" height="2.51" fill="#800000"/>
<rect x="652.52" y="253.69" width="3.18" height="2.51" fill="#00008f"/>
<rect x="747.91" y="253.69" width="15.90" height="2.51" fill="#00008f"/>
<rect x="766.99" y="253.69" width="6.36" height="2.51" fill="#800000"/>
<rect x="782.89" y="253.69" width="3.18" height="2.51" fill="#800000"/>
<rect x="795.61" y="253.69" width="3.18" height="2.51" fill="#800000"/>
<rect x="801.97" y="253.69" width="3.18" height="2.51" fill="#800000"/>
<rect x="751.09" y="256.20" width="15.90" height="2.51" fill="#00008f"/>
<rect x="770.17" y="256.20" width="6.36" height="2.51" fill="#800000"/>
<rect x="782.89" y="256.20" width="3.18" height="2.51" fill="#800000"/>
<rect x="795.61" y="256.20" width="3.18" height="2.51" fill="#800000"/>
<rect x="801.97" y="256.20" width="3.18" height="2.51" fill="#800000"/>
<rect x="652.52" y="258.70" width="3.18" height="2.51" fill="#00008f"/>
<rect x="754.27" y="258.70" width="15.90" height="2.51" fill="#00008f"/>
<rect x="773.35" y="258.70" width="6.36" height="2.51" fill="#800000"/>
<rect x="652.52" y="261.21" width="3.18" height="2.51" fill="#00008f"/>
<rect x="757.45" y="261.21" width="15.90" height="2.51" fill="#00008f"/>
<rect x="776.53" y="261.21" width="6.36" height="2.51" fill="#800000"/>
<rect x="760.63" y="263.72" width="15.90" height="2.51" fill="#00008f"/>
<rect x="779.71" y="263.72" width="6.36" height="2.51" fill="#800000"/>
<rect x="760.63" y="266.23" width="19.08" height="2.51" fill="#00008f"/>
<rect x="782.89" y="266.23" width="6.36" height="2.51" fill="#800000"/>
<rect x="754.27" y="268.73" width="3.18" height="2.51" fill="#00008f"/>
<rect x="763.81" y="268.73" width="19.08" height="2.51" fill="#00008f"/>
<rect x="786.07" y="268.73" width="15.90" height="2.51" fill="#800000"/>
<rect x="875.10" y="268.73" width="6.36" height="2.51" fill="#00cfff"/>
<rect x="763.81" y="271.24" width="6.36" height="2.51" fill="#00008f"/>
<rect x="776.53" y="271.24" width="9.54" height="2.51" fill="#00008f"/>
<rect x="789.25" y="271.24" width="15.90" height="2.51" fill="#800000"/>
<rect x="751.09" y="273.75" width="6.36" height="2.51" fill="#00008f"/>
<rect x="763.81" y="273.75" width="6.36" height="2.51" fill="#00008f"/>
<rect x="776.53" y="273.75" width="12.72" height="2.51" fill="#00008f"/>
<rect x="792.43" y="273.75" width="15.90" height="2.51" fill="#800000"/>
<rect x="744.73" y="276.26" width="3.18" height="2.51" fill="#00008f"/>
<rect x="751.09" y="276.26" width="22.26" height="2.51" fill="#00008f"/>
<rect x="776.53" y="276.26" width="6.36" height="2.51" fill="#00008f"/>
<rect x="786.07" y="276.26" width="6.36" height="2.51" fill="#00008f"/>
<rect x="795.61" y="276.26" width="15.90" height="2.51" fill="#800000"/>
<rect x="754.27" y="278.77" width="3.18" height="2.51" fill="#00008f"/>
<rect x="763.81" y="278.77" width="6.36" height="2.51" fill="#00008f"/>
<rect x="779.71" y="278.77" width="15.90" height="2.51" fill="#00008f"/>
<rect x="798.79" y="278.77" width="15.90" height="2.51" fill="#800000"/>
<rect x="856.02" y="278.77" width="3.18" height="2.51" fill="#00cfff"/>
<rect x="754.27" y="281.27" width="3.18" height="2.51" fill="#00008f"/>
<rect x="782.89" y="281.27" width="15.90" height="2.51" fill="#00008f"/>
<rect x="801.97" y="281.27" width="15.90" height="2.51" fill="#800000"/>
<rect x="741.55" y="283.78" width="19.08" height="2.51" fill="#00008f"/>
<rect x="763.81" y="283.78" width="3.18" height="2.51" fill="#00008f"/>
<rect x="786.07" y="283.78" width="15.90" height="2.51" fill="#00008f"/>
<rect x="805.15" y="283.78" width="15.90" height="2.51" fill="#800000"/>
<rect x="732.02" y="286.29" width="3.18" height="2.51" fill="#00008f"/>
<rect x="741.55" y="286.29" width="19.08" height="2.51" fill="#00008f"/>
<rect x="789.25" y="286.29" width="15.90" height="2.51" fill="#00008f"/>
<rect x="808.33" y="286.29" width="15.90" height="2.51" fill="#800000"/>
<rect x="843.30" y="286.29" width="6.36" height="2.51" fill="#800000"/>
<rect x="856.02" y="286.29" width="3.18" height="2.51" fill="#800000"/>
<rect x="741.55" y="288.80" width="6.36" height="2.51" fill="#00008f"/>
<rect x="754.27" y="288.80" width="3.18" height="2.51" fill="#00008f"/>
<rect x="792.43" y="288.80" width="15.90" height="2.51" fill="#00008f"/>
<rect x="811.51" y="288.80" width="15.90" height="2.51" fill="#800000"/>
<rect x="732.02" y="291.30" width="3.18" height="2.51" fill="#00008f"/>
<rect x="741.55" y="291.30" width="6.36" height="2.51" fill="#00008f"/>
<rect x="795.61" y="291.30" width="15.90" height="2.51" fill="#00008f"/>
<rect x="814.69" y="291.30" width="12.72" height="2.51" fill="#800000"/>
<rect x="722.48" y="293.81" width="3.18" height="2.51" fill="#00008f"/>
<rect x="728.84" y="293.81" width="19.08" height="2.51" fill="#00008f"/>
<rect x="754.27" y="293.81" width="3.18" height="2.51" fill="#00008f"/>
<rect x="798.79" y="293.81" width="15.90" height="2.51" fill="#00008f"/>
<rect x="817.87" y="293.81" width="9.54" height="2.51" fill="#800000"/>
<rect x="732.02" y="296.32" width="3.18" height="2.51" fill="#00008f"/>
<rect x="741.55" y="296.32" width="6.36" height="2.51" fill="#00008f"/>
<rect x="801.97" y="296.32" width="15.90" height="2.51" fill="#00008f"/>
<rect x="821.05" y="296.32" width="6.36" height="2.51" fill="#800000"/>
<rect x="843.30" y="296.32" width="6.36" height="2.51" fill="#800000"/>
<rect x="856.02" y="296.32" width="3.18" height="2.51" fill="#800000"/>
<rect x="732.02" y="298.83" width="3.18" height="2.51" fill="#00008f"/>
<rect x="805.15" y="298.83" width="15.90" height="2.51" fill="#00008f"/>
<rect x="824.23" y="298.83" width="6.36" height="2.51" fill="#800000"/>
<rect x="719.30" y="301.34" width="6.36" height="2.51" fill="#00008f"/>
<rect x="728.84" y="301.34" width="6.36" height="2.51" fill="#00008f"/>
<rect x="808.33" y="301.34" width="15.90" height="2.51" fill="#00008f"/>
<rect x="827.41" y="301.34" width="6.36" height="2.51" fill="#800000"/>
<rect x="719.30" y="303.84" width="19.08" height="2.51" fill="#00008f"/>
<rect x="811.51" y="303.84" width="15.90" height="2.51" fill="#00008f"/>
<rect x="830.59" y="303.84" width="6.36" height="2.51" fill="#800000"/>
<rect x="722.48" y="306.35" width="3.18" height="2.51" fill="#00008f"/>
<rect x="732.02" y="306.35" width="3.18" height="2.51" fill="#00008f"/>
<rect x="814.69" y="306.35" width="15.90" height="2.51" fill="#00008f"/>
<rect x="833.77" y="306.35" width="6.36" height="2.51" fill="#800000"/>
<rect x="732.02" y="308.86" width="3.18" height="2.51" fill="#00008f"/>
<rect x="814.69" y="308.86" width="6.36" height="2.51" fill="#00008f"/>
<rect x="827.41" y="308.86" width="6.36" height="2.51" fill="#00008f"/>
<rect x="836.95" y="308.86" width="6.36" height="2.51" fill="#800000"/>
<rect x="830.59" y="311.37" width="6.36" height="2.51" fill="#00008f"/>
<rect x="840.12" y="311.37" width="15.90" height="2.51" fill="#800000"/>
<rect x="830.59" y="313.88" width="9.54" height="2.51" fill="#00008f"/>
<rect x="843.30" y="313.88" width="15.90" height="2.51" fill="#800000"/>
<rect x="735.20" y="316.38" width="3.18" height="2.51" fill="#00008f"/>
<rect x="744.73" y="316.38" width="3.18" height="2.51" fill="#00008f"/>
<rect x="805.15" y="316.38" width="6.36" height="2.51" fill="#00008f"/>
<rect x="814.69" y="316.38" width="6.36" height="2.51" fill="#00008f"/>
<rect x="830.59" y="316.38" width="12.72" height="2.51" fill="#00008f"/>
<rect x="846.48" y="316.38" width="15.90" height="2.51" fill="#800000"/>
<rect x="805.15" y="318.89" width="6.36" height="2.51" fill="#00008f"/>
<rect x="817.87" y="318.89" width="3.18" height="2.51" fill="#00008f"/>
<rect x="830.59" y="318.89" width="15.90" height="2.51" fill="#00008f"/>
<rect x="849.66" y="318.89" width="15.90" height="2.51" fill="#800000"/>
<rect x="833.77" y="321.40" width="15.90" height="2.51" fill="#00008f"/>
<rect x="852.84" y="321.40" width="15.90" height="2.51" fill="#800000"/>
<rect x="757.45" y="323.91" width="3.18" height="2.51" fill="#00008f"/>
<rect x="766.99" y="323.91" width="3.18" height="2.51" fill="#00008f"/>
<rect x="795.61" y="323.91" width="3.18" height="2.51" fill="#00008f"/>
<rect x="805.15" y="323.91" width="3.18" height="2.51" fill="#00008f"/>
<rect x="836.95" y="323.91" width="15.90" height="2.51" fill="#00008f"/>
<rect x="856.02" y="323.91" width="15.90" height="2.51" fill="#800000"/>
<rect x="754.27" y="326.41" width="3.18" height="2.51" fill="#00008f"/>
<rect x="792.43" y="326.41" width="9.54" height="2.51" fill="#00008f"/>
<rect x="805.15" y="326.41" width="6.36" height="2.51" fill="#00008f"/>
<rect x="840.12" y="326.41" width="15.90" height="2.51" fill="#00008f"/>
<rect x="859.20" y="326.41" width="15.90" height="2.51" fill="#800000"/>
<rect x="795.61" y="328.92" width="3.18" height="2.51" fill="#00008f"/>
<rect x="843.30" y="328.92" width="15.90" height="2.51" fill="#00008f"/>
<rect x="862.38" y="328.92" width="15.90" height="2.51" fill="#800000"/>
<rect x="846.48" y="331.43" width="15.90" height="2.51" fill="#00008f"/>
<rect x="865.56" y="331.43" width="15.90" height="2.51" fill="#800000"/>
<rect x="766.99" y="333.94" width="3.18" height="2.51" fill="#00008f"/>
<rect x="782.89" y="333.94" width="6.36" height="2.51" fill="#00008f"/>
<rect x="792.43" y="333.94" width="6.36" height="2.51" fill="#00008f"/>
<rect x="849.66" y="333.94" width="15.90" height="2.51" fill="#00008f"/>
<rect x="868.74" y="333.94" width="15.90" height="2.51" fill="#800000"/>
<rect x="782.89" y="336.45" width="6.36" height="2.51" fill="#00008f"/>
<rect x="795.61" y="336.45" width="3.18" height="2.51" fill="#00008f"/>
<rect x="852.84" y="336.45" width="15.90" height="2.51" fill="#00008f"/>
<rect x="871.92" y="336.45" width="15.90" height="2.51" fill="#800000"/>
<rect x="856.02" y="338.95" width="15.90" height="2.51" fill="#00008f"/>
<rect x="875.10" y="338.95" width="12.72" height="2.51" fill="#800000"/>
<rect x="782.89" y="341.46" width="3.18" height="2.51" fill="#00008f"/>
<rect x="859.20" y="341.46" width="15.90" height="2.51" fill="#00008f"/>
<rect x="878.28" y="341.46" width="9.54" height="2.51" fill="#800000"/>
<rect x="782.89" y="343.97" width="6.36" height="2.51" fill="#00008f"/>
<rect x="862.38" y="343.97" width="15.90" height="2.51" fill="#00008f"/>
<rect x="881.46" y="343.97" width="6.36" height="2.51" fill="#800000"/>
<rect x="865.56" y="346.48" width="15.90" height="2.51" fill="#00008f"/>
<rect x="884.64" y="346.48" width="6.36" height="2.51" fill="#800000"/>
<rect x="868.74" y="348.98" width="15.90" height="2.51" fill="#00008f"/>
<rect x="887.82" y="348.98" width="3.18" height="2.51" fill="#800000"/>
<rect x="871.92" y="351.49" width="15.90" height="2.51" fill="#00008f"/>
<path d="M546.00 354.00v-4M546.00 33.00v4M484.00 81.90h4M891.00 81.90h-4M609.60 354.00v-4M609.60 33.00v4M484.00 132.06h4M891.00 132.06h-4M673.19 354.00v-4M673.19 33.00v4M484.00 182.21h4M891.00 182.21h-4M736.79 354.00v-4M736.79 33.00v4M484.00 232.37h4M891.00 232.37h-4M800.38 354.00v-4M800.38 33.00v4M484.00 282.53h4M891.00 282.53h-4M863.97 354.00v-4M863.97 33.00v4M484.00 332.68h4M891.00 332.68h-4" stroke="#111" stroke-width="1" fill="none"/>
<rect x="484" y="33" width="407" height="321" fill="none" stroke="#444" stroke-width="1"/>
<text x="546.00" y="368.10" text-anchor="middle" class="t">20</text>
<text x="481.00" y="86.20" text-anchor="end" class="t">20</text>
<text x="609.60" y="368.10" text-anchor="middle" class="t">40</text>
<text x="481.00" y="136.36" text-anchor="end" class="t">40</text>
<text x="673.19" y="368.10" text-anchor="middle" class="t">60</text>
<text x="481.00" y="186.51" text-anchor="end" class="t">60</text>
<text x="736.79" y="368.10" text-anchor="middle" class="t">80</text>
<text x="481.00" y="236.67" text-anchor="end" class="t">80</text>
<text x="800.38" y="368.10" text-anchor="middle" class="t">100</text>
<text x="481.00" y="286.83" text-anchor="end" class="t">100</text>
<text x="863.97" y="368.10" text-anchor="middle" class="t">120</text>
<text x="481.00" y="336.98" text-anchor="end" class="t">120</text>
<text x="687.50" y="23.40" text-anchor="middle" class="h">Protein :1elr</text>
<rect x="34" y="429" width="407" height="321" fill="#50ffad"/>
<rect x="39.02" y="429.00" width="10.05" height="3.96" fill="#800000"/>
<rect x="34.00" y="432.96" width="5.02" height="3.96" fill="#00008f"/>
<rect x="44.05" y="432.96" width="10.05" height="3.96" fill="#800000"/>
<rect x="34.00" y="436.93" width="10.05" height="3.96" fill="#00008f"/>
<rect x="49.07" y="436.93" width="10.05" height="3.96" fill="#800000"/>
<rect x="39.02" y="440.89" width="10.05" height="3.96" fill="#00008f"/>
<rect x="54.10" y="440.89" width="10.05" height="3.96" fill="#800000"/>
<rect x="74.20" y="440.89" width="5.02" height="3.96" fill="#00cfff"/>
<rect x="94.30" y="440.89" width="5.02" height="3.96" fill="#00cfff"/>
<rect x="194.79" y="440.89" width="5.02" height="3.96" fill="#00cfff"/>
<rect x="39.02" y="444.85" width="15.07" height="3.96" fill="#00008f"/>
<rect x="59.12" y="444.85" width="10.05" height="3.96" fill="#800000"/>
<rect x="39.02" y="448.81" width="20.10" height="3.96" fill="#00008f"/>
<rect x="64.15" y="448.81" width="10.05" height="3.96" fill="#800000"/>
<rect x="74.20" y="448.81" width="5.02" height="3.96" fill="#00cfff"/>
<rect x="234.99" y="448.81" width="5.02" height="3.96" fill="#00cfff"/>
<rect x="39.02" y="452.78" width="5.02" height="3.96" fill="#00008f"/>
<rect x="49.07" y="452.78" width="15.07" height="3.96" fill="#00008f"/>
<rect x="69.17" y="452.78" width="25.12" height="3.96" fill="#800000"/>
<rect x="49.07" y="456.74" width="20.10" height="3.96" fill="#00008f"/>
<rect x="74.20" y="456.74" width="25.12" height="3.96" fill="#800000"/>
<rect x="39.02" y="460.70" width="35.17" height="3.96" fill="#00008f"/>
<rect x="79.22" y="460.70" width="25.12" height="3.96" fill="#800000"/>
<rect x="174.69" y="460.70" width="5.02" height="3.96" fill="#800000"/>
<rect x="194.79" y="460.70" width="5.02" height="3.96" fill="#800000"/>
<rect x="204.84" y="460.70" width="5.02" height="3.96" fill="#800000"/>
<rect x="34.00" y="464.67" width="45.22" height="3.96" fill="#00008f"/>
<rect x="84.25" y="464.67" width="25.12" height="3.96" fill="#800000"/>
<rect x="39.02" y="468.63" width="5.02" height="3.96" fill="#00008f"/>
<rect x="59.12" y="468.63" width="25.12" height="3.96" fill="#00008f"/>
<rect x="89.27" y="468.63" width="25.12" height="3.96" fill="#800000"/>
<rect x="64.15" y="472.59" width="25.12" height="3.96" fill="#00008f"/>
<rect x="94.30" y="472.59" width="25.12" height="3.96" fill="#800000"/>
<rect x="174.69" y="472.59" width="5.02" height="3.96" fill="#800000"/>
<rect x="194.79" y="472.59" width="5.02" height="3.96" fill="#800000"/>
<rect x="204.84" y="472.59" width="5.02" height="3.96" fill="#d8f030"/>
<rect x="375.68" y="472.59" width="5.02" height="3.96" fill="#00cfff"/>
<rect x="400.80" y="472.59" width="5.02" height="3.96" fill="#00cfff"/>
<rect x="39.02" y="476.56" width="15.07" height="3.96" fill="#00008f"/>
<rect x="69.17" y="476.56" width="25.12" height="3.96" fill="#00008f"/>
<rect x="99.32" y="476.56" width="25.12" height="3.96" fill="#800000"/>
<rect x="159.62" y="476.56" width="5.02" height="3.96" fill="#00cfff"/>
<rect x="174.69" y="476.56" width="5.02" height="3.96" fill="#800000"/>
<rect x="194.79" y="476.56" width="5.02" height="3.96" fill="#800000"/>
<rect x="204.84" y="476.56" width="5.02" height="3.96" fill="#d8f030"/>
<rect x="400.80" y="476.56" width="5.02" height="3.96" fill="#00cfff"/>
<rect x="34.00" y="480.52" width="10.05" height="3.96" fill="#00008f"/>
<rect x="74.20" y="480.52" width="25.12" height="3.96" fill="#00008f"/>
<rect x="104.35" y="480.52" width="20.10" height="3.96" fill="#800000"/>
<rect x="79.22" y="484.48" width="25.12" height="3.96" fill="#00008f"/>
<rect x="109.37" y="484.48" width="15.07" height="3.96" fill="#800000"/>
<rect x="84.25" y="488.44" width="25.12" height="3.96" fill="#00008f"/>
<rect x="114.40" y="488.44" width="10.05" height="3.96" fill="#800000"/>
<rect x="89.27" y="492.41" width="25.12" height="3.96" fill="#00008f"/>
<rect x="119.42" y="492.41" width="10.05" height="3.96" fill="#800000"/>
<rect x="94.30" y="496.37" width="25.12" height="3.96" fill="#00008f"/>
<rect x="124.44" y="496.37" width="10.05" height="3.96" fill="#800000"/>
<rect x="99.32" y="500.33" width="25.12" height="3.96" fill="#00008f"/>
<rect x="129.47" y="500.33" width="10.05" height="3.96" fill="#800000"/>
<rect x="390.75" y="500.33" width="5.02" height="3.96" fill="#00cfff"/>
<rect x="400.80" y="500.33" width="5.02" height="3.96" fill="#00cfff"/>
<rect x="104.35" y="504.30" width="25.12" height="3.96" fill="#00008f"/>
<rect x="134.49" y="504.30" width="10.05" height="3.96" fill="#800000"/>
<rect x="109.37" y="508.26" width="25.12" height="3.96" fill="#00008f"/>
<rect x="139.52" y="508.26" width="10.05" height="3.96" fill="#800000"/>
<rect x="149.57" y="508.26" width="5.02" height="3.96" fill="#00cfff"/>
<rect x="159.62" y="508.26" width="5.02" height="3.96" fill="#00cfff"/>
<rect x="390.75" y="508.26" width="5.02" height="3.96" fill="#00cfff"/>
<rect x="114.40" y="512.22" width="5.02" height="3.96" fill="#00008f"/>
<rect x="129.47" y="512.22" width="10.05" height="3.96" fill="#00008f"/>
<rect x="144.54" y="512.22" width="10.05" height="3.96" fill="#800000"/>
<rect x="134.49" y="516.19" width="10.05" height="3.96" fill="#00008f"/>
<rect x="149.57" y="516.19" width="25.12" height="3.96" fill="#800000"/>
<rect x="134.49" y="520.15" width="15.07" height="3.96" fill="#00008f"/>
<rect x="154.59" y="520.15" width="25.12" height="3.96" fill="#800000"/>
<rect x="109.37" y="524.11" width="5.02" height="3.96" fill="#00008f"/>
<rect x="134.49" y="524.11" width="20.10" height="3.96" fill="#00008f"/>
<rect x="159.62" y="524.11" width="25.12" height="3.96" fill="#800000"/>
<rect x="94.30" y="528.07" width="5.02" height="3.96" fill="#00008f"/>
<rect x="109.37" y="528.07" width="10.05" height="3.96" fill="#00008f"/>
<rect x="134.49" y="528.07" width="25.12" height="3.96" fill="#00008f"/>
<rect x="164.64" y="528.07" width="25.12" height="3.96" fill="#800000"/>
<rect x="390.75" y="528.07" width="5.02" height="3.96" fill="#00cfff"/>
<rect x="139.52" y="532.04" width="25.12" height="3.96" fill="#00008f"/>
<rect x="169.67" y="532.04" width="25.12" height="3.96" fill="#800000"/>
<rect x="144.54" y="536.00" width="25.12" height="3.96" fill="#00008f"/>
<rect x="174.69" y="536.00" width="25.12" height="3.96" fill="#800000"/>
<rect x="94.30" y="539.96" width="5.02" height="3.96" fill="#00008f"/>
<rect x="109.37" y="539.96" width="5.02" height="3.96" fill="#00008f"/>
<rect x="149.57" y="539.96" width="25.12" height="3.96" fill="#00008f"/>
<rect x="179.72" y="539.96" width="25.12" height="3.96" fill="#800000"/>
<rect x="370.65" y="539.96" width="5.02" height="3.96" fill="#00cfff"/>
<rect x="390.75" y="539.96" width="5.02" height="3.96" fill="#00cfff"/>
<rect x="44.05" y="543.93" width="5.02" height="3.96" fill="#00008f"/>
<rect x="74.20" y="543.93" width="5.02" height="3.96" fill="#00008f"/>
<rect x="94.30" y="543.93" width="5.02" height="3.96" fill="#00008f"/>
<rect x="154.59" y="543.93" width="25.12" height="3.96" fill="#00008f"/>
<rect x="184.74" y="543.93" width="25.12" height="3.96" fill="#800000"/>
<rect x="159.62" y="547.89" width="25.12" height="3.96" fill="#00008f"/>
<rect x="189.77" y="547.89" width="25.12" height="3.96" fill="#800000"/>
<rect x="164.64" y="551.85" width="25.12" height="3.96" fill="#00008f"/>
<rect x="194.79" y="551.85" width="25.12" height="3.96" fill="#800000"/>
<rect x="49.07" y="555.81" width="5.02" height="3.96" fill="#00008f"/>
<rect x="74.20" y="555.81" width="10.05" height="3.96" fill="#00008f"/>
<rect x="89.27" y="555.81" width="10.05" height="3.96" fill="#00008f"/>
<rect x="169.67" y="555.81" width="25.12" height="3.96" fill="#00008f"/>
<rect x="199.81" y="555.81" width="25.12" height="3.96" fill="#800000"/>
<rect x="355.58" y="555.81" width="5.02" height="3.96" fill="#00cfff"/>
<rect x="370.65" y="555.81" width="5.02" height="3.96" fill="#00cfff"/>
<rect x="44.05" y="559.78" width="10.05" height="3.96" fill="#00008f"/>
<rect x="74.20" y="559.78" width="5.02" height="3.96" fill="#00008f"/>
<rect x="174.69" y="559.78" width="25.12" height="3.96" fill="#00008f"/>
<rect x="204.84" y="559.78" width="25.12" height="3.96" fill="#800000"/>
<rect x="179.72" y="563.74" width="25.12" height="3.96" fill="#00008f"/>
<rect x="209.86" y="563.74" width="25.12" height="3.96" fill="#800000"/>
<rect x="74.20" y="567.70" width="5.02" height="3.96" fill="#00008f"/>
<rect x="184.74" y="567.70" width="25.12" height="3.96" fill="#00008f"/>
<rect x="214.89" y="567.70" width="25.12" height="3.96" fill="#800000"/>
<rect x="49.07" y="571.67" width="15.07" height="3.96" fill="#00008f"/>
<rect x="74.20" y="571.67" width="5.02" height="3.96" fill="#00008f"/>
<rect x="189.77" y="571.67" width="25.12" height="3.96" fill="#00008f"/>
<rect x="219.91" y="571.67" width="25.12" height="3.96" fill="#800000"/>
<rect x="194.79" y="575.63" width="25.12" height="3.96" fill="#00008f"/>
<rect x="224.94" y="575.63" width="25.12" height="3.96" fill="#800000"/>
<rect x="199.81" y="579.59" width="25.12" height="3.96" fill="#00008f"/>
<rect x="229.96" y="579.59" width="25.12" height="3.96" fill="#800000"/>
<rect x="59.12" y="583.56" width="5.02" height="3.96" fill="#00008f"/>
<rect x="204.84" y="583.56" width="25.12" height="3.96" fill="#00008f"/>
<rect x="234.99" y="583.56" width="25.12" height="3.96" fill="#800000"/>
<rect x="54.10" y="587.52" width="10.05" height="3.96" fill="#00008f"/>
<rect x="209.86" y="587.52" width="25.12" height="3.96" fill="#00008f"/>
<rect x="240.01" y="587.52" width="25.12" height="3.96" fill="#800000"/>
<rect x="335.48" y="587.52" width="5.02" height="3.96" fill="#800000"/>
<rect x="340.51" y="587.52" width="5.02" height="3.96" fill="#d8f030"/>
<rect x="214.89" y="591.48" width="25.12" height="3.96" fill="#00008f"/>
<rect x="245.04" y="591.48" width="25.12" height="3.96" fill="#800000"/>
<rect x="219.91" y="595.44" width="25.12" height="3.96" fill="#00008f"/>
<rect x="250.06" y="595.44" width="25.12" height="3.96" fill="#800000"/>
<rect x="285.23" y="595.44" width="5.02" height="3.96" fill="#00cfff"/>
<rect x="335.48" y="595.44" width="10.05" height="3.96" fill="#800000"/>
<rect x="224.94" y="599.41" width="25.12" height="3.96" fill="#00008f"/>
<rect x="255.09" y="599.41" width="25.12" height="3.96" fill="#800000"/>
<rect x="229.96" y="603.37" width="25.12" height="3.96" fill="#00008f"/>
<rect x="260.11" y="603.37" width="20.10" height="3.96" fill="#800000"/>
<rect x="234.99" y="607.33" width="25.12" height="3.96" fill="#00008f"/>
<rect x="265.14" y="607.33" width="15.07" height="3.96" fill="#800000"/>
<rect x="285.23" y="607.33" width="5.02" height="3.96" fill="#00cfff"/>
<rect x="335.48" y="607.33" width="10.05" height="3.96" fill="#d8f030"/>
<rect x="240.01" y="611.30" width="25.12" height="3.96" fill="#00008f"/>
<rect x="270.16" y="611.30" width="10.05" height="3.96" fill="#800000"/>
<rect x="245.04" y="615.26" width="25.12" height="3.96" fill="#00008f"/>
<rect x="275.19" y="615.26" width="10.05" height="3.96" fill="#800000"/>
<rect x="285.23" y="615.26" width="5.02" height="3.96" fill="#00cfff"/>
<rect x="250.06" y="619.22" width="25.12" height="3.96" fill="#00008f"/>
<rect x="280.21" y="619.22" width="10.05" height="3.96" fill="#800000"/>
<rect x="255.09" y="623.19" width="25.12" height="3.96" fill="#00008f"/>
<rect x="285.23" y="623.19" width="10.05" height="3.96" fill="#800000"/>
<rect x="245.04" y="627.15" width="5.02" height="3.96" fill="#00008f"/>
<rect x="260.11" y="627.15" width="25.12" height="3.96" fill="#00008f"/>
<rect x="290.26" y="627.15" width="10.05" height="3.96" fill="#800000"/>
<rect x="245.04" y="631.11" width="10.05" height="3.96" fill="#00008f"/>
<rect x="260.11" y="631.11" width="30.15" height="3.96" fill="#00008f"/>
<rect x="295.28" y="631.11" width="10.05" height="3.96" fill="#800000"/>
<rect x="260.11" y="635.07" width="10.05" height="3.96" fill="#00008f"/>
<rect x="280.21" y="635.07" width="15.07" height="3.96" fill="#00008f"/>
<rect x="300.31" y="635.07" width="10.05" height="3.96" fill="#800000"/>
<rect x="285.23" y="639.04" width="15.07" height="3.96" fill="#00008f"/>
<rect x="305.33" y="639.04" width="10.05" height="3.96" fill="#800000"/>
<rect x="265.14" y="643.00" width="5.02" height="3.96" fill="#00008f"/>
<rect x="290.26" y="643.00" width="15.07" height="3.96" fill="#00008f"/>
<rect x="310.36" y="643.00" width="10.05" height="3.96" fill="#800000"/>
<rect x="285.23" y="646.96" width="25.12" height="3.96" fill="#00008f"/>
<rect x="315.38" y="646.96" width="10.05" height="3.96" fill="#800000"/>
<rect x="224.94" y="650.93" width="5.02" height="3.96" fill="#00008f"/>
<rect x="245.04" y="650.93" width="5.02" height="3.96" fill="#00008f"/>
<rect x="260.11" y="650.93" width="10.05" height="3.96" fill="#00008f"/>
<rect x="285.23" y="650.93" width="30.15" height="3.96" fill="#00008f"/>
<rect x="320.41" y="650.93" width="25.12" height="3.96" fill="#800000"/>
<rect x="224.94" y="654.89" width="10.05" height="3.96" fill="#00008f"/>
<rect x="245.04" y="654.89" width="10.05" height="3.96" fill="#00008f"/>
<rect x="260.11" y="654.89" width="10.05" height="3.96" fill="#00008f"/>
<rect x="290.26" y="654.89" width="5.02" height="3.96" fill="#00008f"/>
<rect x="300.31" y="654.89" width="20.10" height="3.96" fill="#00008f"/>
<rect x="325.43" y="654.89" width="25.12" height="3.96" fill="#800000"/>
<rect x="305.33" y="658.85" width="20.10" height="3.96" fill="#00008f"/>
<rect x="330.46" y="658.85" width="25.12" height="3.96" fill="#800000"/>
<rect x="209.86" y="662.81" width="5.02" height="3.96" fill="#00008f"/>
<rect x="224.94" y="662.81" width="5.02" height="3.96" fill="#00008f"/>
<rect x="305.33" y="662.81" width="25.12" height="3.96" fill="#00008f"/>
<rect x="335.48" y="662.81" width="25.12" height="3.96" fill="#800000"/>
<rect x="209.86" y="666.78" width="10.05" height="3.96" fill="#00008f"/>
<rect x="224.94" y="666.78" width="10.05" height="3.96" fill="#00008f"/>
<rect x="245.04" y="666.78" width="5.02" height="3.96" fill="#00008f"/>
<rect x="315.38" y="666.78" width="20.10" height="3.96" fill="#00008f"/>
<rect x="340.51" y="666.78" width="25.12" height="3.96" fill="#800000"/>
<rect x="320.41" y="670.74" width="20.10" height="3.96" fill="#00008f"/>
<rect x="345.53" y="670.74" width="25.12" height="3.96" fill="#800000"/>
<rect x="320.41" y="674.70" width="25.12" height="3.96" fill="#00008f"/>
<rect x="350.56" y="674.70" width="25.12" height="3.96" fill="#800000"/>
<rect x="189.77" y="678.67" width="10.05" height="3.96" fill="#00008f"/>
<rect x="204.84" y="678.67" width="10.05" height="3.96" fill="#00008f"/>
<rect x="325.43" y="678.67" width="25.12" height="3.96" fill="#00008f"/>
<rect x="355.58" y="678.67" width="25.12" height="3.96" fill="#800000"/>
<rect x="189.77" y="682.63" width="10.05" height="3.96" fill="#00008f"/>
<rect x="209.86" y="682.63" width="5.02" height="3.96" fill="#00008f"/>
<rect x="330.46" y="682.63" width="25.12" height="3.96" fill="#00008f"/>
<rect x="360.60" y="682.63" width="25.12" height="3.96" fill="#800000"/>
<rect x="335.48" y="686.59" width="25.12" height="3.96" fill="#00008f"/>
<rect x="365.63" y="686.59" width="25.12" height="3.96" fill="#800000"/>
<rect x="189.77" y="690.56" width="5.02" height="3.96" fill="#00008f"/>
<rect x="340.51" y="690.56" width="25.12" height="3.96" fill="#00008f"/>
<rect x="370.65" y="690.56" width="25.12" height="3.96" fill="#800000"/>
<rect x="174.69" y="694.52" width="5.02" height="3.96" fill="#00008f"/>
<rect x="189.77" y="694.52" width="10.05" height="3.96" fill="#00008f"/>
<rect x="345.53" y="694.52" width="25.12" height="3.96" fill="#00008f"/>
<rect x="375.68" y="694.52" width="20.10" height="3.96" fill="#800000"/>
<rect x="400.80" y="694.52" width="5.02" height="3.96" fill="#00cfff"/>
<rect x="89.27" y="698.48" width="5.02" height="3.96" fill="#00008f"/>
<rect x="350.56" y="698.48" width="25.12" height="3.96" fill="#00008f"/>
<rect x="380.70" y="698.48" width="15.07" height="3.96" fill="#800000"/>
<rect x="400.80" y="698.48" width="5.02" height="3.96" fill="#00cfff"/>
<rect x="355.58" y="702.44" width="25.12" height="3.96" fill="#00008f"/>
<rect x="385.73" y="702.44" width="10.05" height="3.96" fill="#800000"/>
<rect x="154.59" y="706.41" width="5.02" height="3.96" fill="#00008f"/>
<rect x="174.69" y="706.41" width="5.02" height="3.96" fill="#00008f"/>
<rect x="360.60" y="706.41" width="25.12" height="3.96" fill="#00008f"/>
<rect x="390.75" y="706.41" width="10.05" height="3.96" fill="#800000"/>
<rect x="109.37" y="710.37" width="5.02" height="3.96" fill="#00008f"/>
<rect x="124.44" y="710.37" width="5.02" height="3.96" fill="#00008f"/>
<rect x="134.49" y="710.37" width="5.02" height="3.96" fill="#00008f"/>
<rect x="154.59" y="710.37" width="10.05" height="3.96" fill="#00008f"/>
<rect x="174.69" y="710.37" width="5.02" height="3.96" fill="#00008f"/>
<rect x="365.63" y="710.37" width="25.12" height="3.96" fill="#00008f"/>
<rect x="395.78" y="710.37" width="10.05" height="3.96" fill="#800000"/>
<rect x="109.37" y="714.33" width="5.02" height="3.96" fill="#00008f"/>
<rect x="360.60" y="714.33" width="5.02" height="3.96" fill="#00008f"/>
<rect x="370.65" y="714.33" width="25.12" height="3.96" fill="#00008f"/>
<rect x="400.80" y="714.33" width="10.05" height="3.96" fill="#800000"/>
<rect x="89.27" y="718.30" width="10.05" height="3.96" fill="#00008f"/>
<rect x="104.35" y="718.30" width="10.05" height="3.96" fill="#00008f"/>
<rect x="124.44" y="718.30" width="5.02" height="3.96" fill="#00008f"/>
<rect x="370.65" y="718.30" width="30.15" height="3.96" fill="#00008f"/>
<rect x="405.83" y="718.30" width="10.05" height="3.96" fill="#800000"/>
<rect x="89.27" y="722.26" width="5.02" height="3.96" fill="#00008f"/>
<rect x="360.60" y="722.26" width="5.02" height="3.96" fill="#00008f"/>
<rect x="375.68" y="722.26" width="10.05" height="3.96" fill="#00008f"/>
<rect x="390.75" y="722.26" width="15.07" height="3.96" fill="#00008f"/>
<rect x="410.85" y="722.26" width="10.05" height="3.96" fill="#800000"/>
<rect x="360.60" y="726.22" width="5.02" height="3.96" fill="#00008f"/>
<rect x="375.68" y="726.22" width="10.05" height="3.96" fill="#00008f"/>
<rect x="395.78" y="726.22" width="15.07" height="3.96" fill="#00008f"/>
<rect x="415.88" y="726.22" width="10.05" height="3.96" fill="#800000"/>
<rect x="375.68" y="730.19" width="10.05" height="3.96" fill="#00008f"/>
<rect x="395.78" y="730.19" width="20.10" height="3.96" fill="#00008f"/>
<rect x="420.90" y="730.19" width="10.05" height="3.96" fill="#800000"/>
<rect x="395.78" y="734.15" width="25.12" height="3.96" fill="#00008f"/>
<rect x="425.93" y="734.15" width="10.05" height="3.96" fill="#800000"/>
<rect x="415.88" y="738.11" width="10.05" height="3.96" fill="#00008f"/>
<rect x="430.95" y="738.11" width="10.05" height="3.96" fill="#800000"/>
<rect x="415.88" y="742.07" width="15.07" height="3.96" fill="#00008f"/>
<rect x="435.98" y="742.07" width="5.02" height="3.96" fill="#800000"/>
<rect x="415.88" y="746.04" width="20.10" height="3.96" fill="#00008f"/>
<path d="M81.73 750.00v-4M81.73 429.00v4M34.00 466.65h4M441.00 466.65h-4M131.98 750.00v-4M131.98 429.00v4M34.00 506.28h4M441.00 506.28h-4M182.23 750.00v-4M182.23 429.00v4M34.00 545.91h4M441.00 545.91h-4M232.48 750.00v-4M232.48 429.00v4M34.00 585.54h4M441.00 585.54h-4M282.72 750.00v-4M282.72 429.00v4M34.00 625.17h4M441.00 625.17h-4M332.97 750.00v-4M332.97 429.00v4M34.00 664.80h4M441.00 664.80h-4M383.22 750.00v-4M383.22 429.00v4M34.00 704.43h4M441.00 704.43h-4M433.46 750.00v-4M433.46 429.00v4M34.00 744.06h4M441.00 744.06h-4" stroke="#111" stroke-width="1" fill="none"/>
<rect x="34" y="429" width="407" height="321" fill="none" stroke="#444" stroke-width="1"/>
<text x="81.73" y="764.10" text-anchor="middle" class="t">10</text>
<text x="31.00" y="470.95" text-anchor="end" class="t">10</text>
<text x="131.98" y="764.10" text-anchor="middle" class="t">20</text>
<text x="31.00" y="510.58" text-anchor="end" class="t">20</text>
<text x="182.23" y="764.10" text-anchor="middle" class="t">30</text>
<text x="31.00" y="550.21" text-anchor="end" class="t">30</text>
<text x="232.48" y="764.10" text-anchor="middle" class="t">40</text>
<text x="31.00" y="589.84" text-anchor="end" class="t">40</text>
<text x="282.72" y="764.10" text-anchor="middle" class="t">50</text>
<text x="31.00" y="629.47" text-anchor="end" class="t">50</text>
<text x="332.97" y="764.10" text-anchor="middle" class="t">60</text>
<text x="31.00" y="669.10" text-anchor="end" class="t">60</text>
<text x="383.22" y="764.10" text-anchor="middle" class="t">70</text>
<text x="31.00" y="708.73" text-anchor="end" class="t">70</text>
<text x="433.46" y="764.10" text-anchor="middle" class="t">80</text>
<text x="31.00" y="748.36" text-anchor="end" class="t">80</text>
<text x="237.50" y="419.40" text-anchor="middle" class="h">Protein :1nre</text>
<rect x="484" y="429" width="407" height="321" fill="#50ffad"/>
<rect x="488.85" y="429.00" width="9.69" height="3.82" fill="#800000"/>
<rect x="484.00" y="432.82" width="4.85" height="3.82" fill="#00008f"/>
<rect x="493.69" y="432.82" width="9.69" height="3.82" fill="#800000"/>
<rect x="546.99" y="432.82" width="4.85" height="3.82" fill="#00cfff"/>
<rect x="702.04" y="432.82" width="9.69" height="3.82" fill="#00cfff"/>
<rect x="721.42" y="432.82" width="4.85" height="3.82" fill="#00cfff"/>
<rect x="484.00" y="436.64" width="9.69" height="3.82" fill="#00008f"/>
<rect x="498.54" y="436.64" width="9.69" height="3.82" fill="#800000"/>
<rect x="532.45" y="436.64" width="14.54" height="3.82" fill="#800000"/>
<rect x="546.99" y="436.64" width="4.85" height="3.82" fill="#00cfff"/>
<rect x="706.88" y="436.64" width="4.85" height="3.82" fill="#00cfff"/>
<rect x="721.42" y="436.64" width="9.69" height="3.82" fill="#800000"/>
<rect x="488.85" y="440.46" width="9.69" height="3.82" fill="#00008f"/>
<rect x="503.38" y="440.46" width="9.69" height="3.82" fill="#800000"/>
<rect x="532.45" y="440.46" width="14.54" height="3.82" fill="#800000"/>
<rect x="546.99" y="440.46" width="4.85" height="3.82" fill="#00cfff"/>
<rect x="706.88" y="440.46" width="4.85" height="3.82" fill="#00cfff"/>
<rect x="721.42" y="440.46" width="9.69" height="3.82" fill="#800000"/>
<rect x="493.69" y="444.29" width="9.69" height="3.82" fill="#00008f"/>
<rect x="508.23" y="444.29" width="9.69" height="3.82" fill="#800000"/>
<rect x="532.45" y="444.29" width="14.54" height="3.82" fill="#800000"/>
<rect x="721.42" y="444.29" width="9.69" height="3.82" fill="#800000"/>
<rect x="498.54" y="448.11" width="9.69" height="3.82" fill="#00008f"/>
<rect x="513.07" y="448.11" width="9.69" height="3.82" fill="#800000"/>
<rect x="503.38" y="451.93" width="9.69" height="3.82" fill="#00008f"/>
<rect x="517.92" y="451.93" width="9.69" height="3.82" fill="#800000"/>
<rect x="503.38" y="455.75" width="14.54" height="3.82" fill="#00008f"/>
<rect x="522.76" y="455.75" width="9.69" height="3.82" fill="#800000"/>
<rect x="503.38" y="459.57" width="19.38" height="3.82" fill="#00008f"/>
<rect x="527.61" y="459.57" width="9.69" height="3.82" fill="#800000"/>
<rect x="498.54" y="463.39" width="29.07" height="3.82" fill="#00008f"/>
<rect x="532.45" y="463.39" width="9.69" height="3.82" fill="#800000"/>
<rect x="493.69" y="467.21" width="19.38" height="3.82" fill="#00008f"/>
<rect x="522.76" y="467.21" width="9.69" height="3.82" fill="#00008f"/>
<rect x="537.30" y="467.21" width="9.69" height="3.82" fill="#800000"/>
<rect x="493.69" y="471.04" width="19.38" height="3.82" fill="#00008f"/>
<rect x="527.61" y="471.04" width="9.69" height="3.82" fill="#00008f"/>
<rect x="542.14" y="471.04" width="9.69" height="3.82" fill="#800000"/>
<rect x="556.68" y="471.04" width="4.85" height="3.82" fill="#d8f030"/>
<rect x="484.00" y="474.86" width="24.23" height="3.82" fill="#00008f"/>
<rect x="532.45" y="474.86" width="9.69" height="3.82" fill="#00008f"/>
<rect x="546.99" y="474.86" width="19.38" height="3.82" fill="#800000"/>
<rect x="484.00" y="478.68" width="19.38" height="3.82" fill="#00008f"/>
<rect x="537.30" y="478.68" width="9.69" height="3.82" fill="#00008f"/>
<rect x="551.83" y="478.68" width="9.69" height="3.82" fill="#800000"/>
<rect x="488.85" y="482.50" width="4.85" height="3.82" fill="#00008f"/>
<rect x="498.54" y="482.50" width="4.85" height="3.82" fill="#00008f"/>
<rect x="537.30" y="482.50" width="14.54" height="3.82" fill="#00008f"/>
<rect x="556.68" y="482.50" width="9.69" height="3.82" fill="#800000"/>
<rect x="546.99" y="486.32" width="9.69" height="3.82" fill="#00008f"/>
<rect x="561.52" y="486.32" width="24.23" height="3.82" fill="#800000"/>
<rect x="551.83" y="490.14" width="9.69" height="3.82" fill="#00008f"/>
<rect x="566.37" y="490.14" width="24.23" height="3.82" fill="#800000"/>
<rect x="551.83" y="493.96" width="14.54" height="3.82" fill="#00008f"/>
<rect x="571.21" y="493.96" width="24.23" height="3.82" fill="#800000"/>
<rect x="551.83" y="497.79" width="19.38" height="3.82" fill="#00008f"/>
<rect x="576.06" y="497.79" width="24.23" height="3.82" fill="#800000"/>
<rect x="745.64" y="497.79" width="4.85" height="3.82" fill="#00cfff"/>
<rect x="556.68" y="501.61" width="19.38" height="3.82" fill="#00008f"/>
<rect x="580.90" y="501.61" width="24.23" height="3.82" fill="#800000"/>
<rect x="556.68" y="505.43" width="24.23" height="3.82" fill="#00008f"/>
<rect x="585.75" y="505.43" width="24.23" height="3.82" fill="#800000"/>
<rect x="561.52" y="509.25" width="24.23" height="3.82" fill="#00008f"/>
<rect x="590.60" y="509.25" width="24.23" height="3.82" fill="#800000"/>
<rect x="871.62" y="509.25" width="4.85" height="3.82" fill="#800000"/>
<rect x="881.31" y="509.25" width="9.69" height="3.82" fill="#800000"/>
<rect x="566.37" y="513.07" width="24.23" height="3.82" fill="#00008f"/>
<rect x="595.44" y="513.07" width="19.38" height="3.82" fill="#800000"/>
<rect x="648.74" y="513.07" width="4.85" height="3.82" fill="#00cfff"/>
<rect x="663.27" y="513.07" width="4.85" height="3.82" fill="#00cfff"/>
<rect x="765.02" y="513.07" width="4.85" height="3.82" fill="#00cfff"/>
<rect x="852.24" y="513.07" width="4.85" height="3.82" fill="#00cfff"/>
<rect x="871.62" y="513.07" width="4.85" height="3.82" fill="#800000"/>
<rect x="881.31" y="513.07" width="4.85" height="3.82" fill="#d8f030"/>
<rect x="886.15" y="513.07" width="4.85" height="3.82" fill="#800000"/>
<rect x="571.21" y="516.89" width="24.23" height="3.82" fill="#00008f"/>
<rect x="600.29" y="516.89" width="14.54" height="3.82" fill="#800000"/>
<rect x="576.06" y="520.71" width="24.23" height="3.82" fill="#00008f"/>
<rect x="605.13" y="520.71" width="9.69" height="3.82" fill="#800000"/>
<rect x="871.62" y="520.71" width="4.85" height="3.82" fill="#800000"/>
<rect x="881.31" y="520.71" width="4.85" height="3.82" fill="#d8f030"/>
<rect x="886.15" y="520.71" width="4.85" height="3.82" fill="#800000"/>
<rect x="580.90" y="524.54" width="24.23" height="3.82" fill="#00008f"/>
<rect x="609.98" y="524.54" width="9.69" height="3.82" fill="#800000"/>
<rect x="585.75" y="528.36" width="24.23" height="3.82" fill="#00008f"/>
<rect x="614.82" y="528.36" width="9.69" height="3.82" fill="#800000"/>
<rect x="590.60" y="532.18" width="24.23" height="3.82" fill="#00008f"/>
<rect x="619.67" y="532.18" width="9.69" height="3.82" fill="#800000"/>
<rect x="605.13" y="536.00" width="14.54" height="3.82" fill="#00008f"/>
<rect x="624.51" y="536.00" width="9.69" height="3.82" fill="#800000"/>
<rect x="605.13" y="539.82" width="19.38" height="3.82" fill="#00008f"/>
<rect x="629.36" y="539.82" width="9.69" height="3.82" fill="#800000"/>
<rect x="639.05" y="539.82" width="4.85" height="3.82" fill="#00cfff"/>
<rect x="837.70" y="539.82" width="4.85" height="3.82" fill="#00cfff"/>
<rect x="847.39" y="539.82" width="9.69" height="3.82" fill="#00cfff"/>
<rect x="609.98" y="543.64" width="19.38" height="3.82" fill="#00008f"/>
<rect x="634.20" y="543.64" width="9.69" height="3.82" fill="#800000"/>
<rect x="624.51" y="547.46" width="9.69" height="3.82" fill="#00008f"/>
<rect x="639.05" y="547.46" width="9.69" height="3.82" fill="#800000"/>
<rect x="609.98" y="551.29" width="4.85" height="3.82" fill="#00008f"/>
<rect x="624.51" y="551.29" width="14.54" height="3.82" fill="#00008f"/>
<rect x="643.89" y="551.29" width="9.69" height="3.82" fill="#800000"/>
<rect x="663.27" y="551.29" width="4.85" height="3.82" fill="#00cfff"/>
<rect x="798.94" y="551.29" width="4.85" height="3.82" fill="#00cfff"/>
<rect x="837.70" y="551.29" width="4.85" height="3.82" fill="#00cfff"/>
<rect x="852.24" y="551.29" width="4.85" height="3.82" fill="#00cfff"/>
<rect x="609.98" y="555.11" width="4.85" height="3.82" fill="#00008f"/>
<rect x="629.36" y="555.11" width="14.54" height="3.82" fill="#00008f"/>
<rect x="648.74" y="555.11" width="9.69" height="3.82" fill="#800000"/>
<rect x="576.06" y="558.93" width="4.85" height="3.82" fill="#00008f"/>
<rect x="590.60" y="558.93" width="9.69" height="3.82" fill="#00008f"/>
<rect x="609.98" y="558.93" width="4.85" height="3.82" fill="#00008f"/>
<rect x="639.05" y="558.93" width="9.69" height="3.82" fill="#00008f"/>
<rect x="653.58" y="558.93" width="24.23" height="3.82" fill="#800000"/>
<rect x="745.64" y="558.93" width="4.85" height="3.82" fill="#d8f030"/>
<rect x="765.02" y="558.93" width="9.69" height="3.82" fill="#800000"/>
<rect x="643.89" y="562.75" width="9.69" height="3.82" fill="#00008f"/>
<rect x="658.43" y="562.75" width="24.23" height="3.82" fill="#800000"/>
<rect x="639.05" y="566.57" width="19.38" height="3.82" fill="#00008f"/>
<rect x="663.27" y="566.57" width="24.23" height="3.82" fill="#800000"/>
<rect x="590.60" y="570.39" width="4.85" height="3.82" fill="#00008f"/>
<rect x="639.05" y="570.39" width="24.23" height="3.82" fill="#00008f"/>
<rect x="668.12" y="570.39" width="24.23" height="3.82" fill="#800000"/>
<rect x="745.64" y="570.39" width="4.85" height="3.82" fill="#d8f030"/>
<rect x="765.02" y="570.39" width="9.69" height="3.82" fill="#00cfff"/>
<rect x="798.94" y="570.39" width="4.85" height="3.82" fill="#00cfff"/>
<rect x="571.21" y="574.21" width="9.69" height="3.82" fill="#00008f"/>
<rect x="590.60" y="574.21" width="4.85" height="3.82" fill="#00008f"/>
<rect x="643.89" y="574.21" width="24.23" height="3.82" fill="#00008f"/>
<rect x="672.96" y="574.21" width="19.38" height="3.82" fill="#800000"/>
<rect x="648.74" y="578.04" width="24.23" height="3.82" fill="#00008f"/>
<rect x="677.81" y="578.04" width="14.54" height="3.82" fill="#800000"/>
<rect x="692.35" y="578.04" width="4.85" height="3.82" fill="#00cfff"/>
<rect x="745.64" y="578.04" width="4.85" height="3.82" fill="#d8f030"/>
<rect x="765.02" y="578.04" width="4.85" height="3.82" fill="#800000"/>
<rect x="769.87" y="578.04" width="4.85" height="3.82" fill="#d8f030"/>
<rect x="653.58" y="581.86" width="24.23" height="3.82" fill="#00008f"/>
<rect x="682.65" y="581.86" width="9.69" height="3.82" fill="#800000"/>
<rect x="658.43" y="585.68" width="24.23" height="3.82" fill="#00008f"/>
<rect x="687.50" y="585.68" width="9.69" height="3.82" fill="#800000"/>
<rect x="663.27" y="589.50" width="24.23" height="3.82" fill="#00008f"/>
<rect x="692.35" y="589.50" width="9.69" height="3.82" fill="#800000"/>
<rect x="668.12" y="593.32" width="24.23" height="3.82" fill="#00008f"/>
<rect x="697.19" y="593.32" width="9.69" height="3.82" fill="#800000"/>
<rect x="706.88" y="593.32" width="4.85" height="3.82" fill="#00cfff"/>
<rect x="677.81" y="597.14" width="19.38" height="3.82" fill="#00008f"/>
<rect x="702.04" y="597.14" width="9.69" height="3.82" fill="#800000"/>
<rect x="488.85" y="600.96" width="4.85" height="3.82" fill="#00008f"/>
<rect x="682.65" y="600.96" width="19.38" height="3.82" fill="#00008f"/>
<rect x="706.88" y="600.96" width="9.69" height="3.82" fill="#800000"/>
<rect x="721.42" y="600.96" width="4.85" height="3.82" fill="#00cfff"/>
<rect x="745.64" y="600.96" width="4.85" height="3.82" fill="#00cfff"/>
<rect x="488.85" y="604.79" width="14.54" height="3.82" fill="#00008f"/>
<rect x="687.50" y="604.79" width="19.38" height="3.82" fill="#00008f"/>
<rect x="711.73" y="604.79" width="9.69" height="3.82" fill="#800000"/>
<rect x="721.42" y="604.79" width="4.85" height="3.82" fill="#00cfff"/>
<rect x="484.00" y="608.61" width="24.23" height="3.82" fill="#00008f"/>
<rect x="546.99" y="608.61" width="4.85" height="3.82" fill="#00008f"/>
<rect x="702.04" y="608.61" width="9.69" height="3.82" fill="#00008f"/>
<rect x="716.57" y="608.61" width="9.69" height="3.82" fill="#800000"/>
<rect x="488.85" y="612.43" width="19.38" height="3.82" fill="#00008f"/>
<rect x="532.45" y="612.43" width="9.69" height="3.82" fill="#00008f"/>
<rect x="702.04" y="612.43" width="14.54" height="3.82" fill="#00008f"/>
<rect x="721.42" y="612.43" width="9.69" height="3.82" fill="#800000"/>
<rect x="488.85" y="616.25" width="24.23" height="3.82" fill="#00008f"/>
<rect x="702.04" y="616.25" width="19.38" height="3.82" fill="#00008f"/>
<rect x="726.26" y="616.25" width="19.38" height="3.82" fill="#800000"/>
<rect x="745.64" y="616.25" width="4.85" height="3.82" fill="#00cfff"/>
<rect x="498.54" y="620.07" width="19.38" height="3.82" fill="#00008f"/>
<rect x="522.76" y="620.07" width="4.85" height="3.82" fill="#00008f"/>
<rect x="532.45" y="620.07" width="4.85" height="3.82" fill="#00008f"/>
<rect x="716.57" y="620.07" width="9.69" height="3.82" fill="#00008f"/>
<rect x="731.11" y="620.07" width="24.23" height="3.82" fill="#800000"/>
<rect x="498.54" y="623.89" width="19.38" height="3.82" fill="#00008f"/>
<rect x="721.42" y="623.89" width="9.69" height="3.82" fill="#00008f"/>
<rect x="735.95" y="623.89" width="24.23" height="3.82" fill="#800000"/>
<rect x="508.23" y="627.71" width="9.69" height="3.82" fill="#00008f"/>
<rect x="721.42" y="627.71" width="14.54" height="3.82" fill="#00008f"/>
<rect x="740.80" y="627.71" width="24.23" height="3.82" fill="#800000"/>
<rect x="702.04" y="631.54" width="4.85" height="3.82" fill="#00008f"/>
<rect x="721.42" y="631.54" width="19.38" height="3.82" fill="#00008f"/>
<rect x="745.64" y="631.54" width="24.23" height="3.82" fill="#800000"/>
<rect x="571.21" y="635.36" width="4.85" height="3.82" fill="#00008f"/>
<rect x="682.65" y="635.36" width="9.69" height="3.82" fill="#00008f"/>
<rect x="702.04" y="635.36" width="4.85" height="3.82" fill="#00008f"/>
<rect x="721.42" y="635.36" width="24.23" height="3.82" fill="#00008f"/>
<rect x="750.49" y="635.36" width="24.23" height="3.82" fill="#800000"/>
<rect x="731.11" y="639.18" width="19.38" height="3.82" fill="#00008f"/>
<rect x="755.33" y="639.18" width="24.23" height="3.82" fill="#800000"/>
<rect x="731.11" y="643.00" width="24.23" height="3.82" fill="#00008f"/>
<rect x="760.18" y="643.00" width="24.23" height="3.82" fill="#800000"/>
<rect x="677.81" y="646.82" width="14.54" height="3.82" fill="#00008f"/>
<rect x="697.19" y="646.82" width="9.69" height="3.82" fill="#00008f"/>
<rect x="735.95" y="646.82" width="24.23" height="3.82" fill="#00008f"/>
<rect x="765.02" y="646.82" width="24.23" height="3.82" fill="#800000"/>
<rect x="590.60" y="650.64" width="4.85" height="3.82" fill="#00008f"/>
<rect x="663.27" y="650.64" width="9.69" height="3.82" fill="#00008f"/>
<rect x="677.81" y="650.64" width="14.54" height="3.82" fill="#00008f"/>
<rect x="740.80" y="650.64" width="24.23" height="3.82" fill="#00008f"/>
<rect x="769.87" y="650.64" width="24.23" height="3.82" fill="#800000"/>
<rect x="852.24" y="650.64" width="4.85" height="3.82" fill="#800000"/>
<rect x="871.62" y="650.64" width="4.85" height="3.82" fill="#00cfff"/>
<rect x="663.27" y="654.46" width="4.85" height="3.82" fill="#00008f"/>
<rect x="682.65" y="654.46" width="4.85" height="3.82" fill="#00008f"/>
<rect x="745.64" y="654.46" width="24.23" height="3.82" fill="#00008f"/>
<rect x="774.71" y="654.46" width="24.23" height="3.82" fill="#800000"/>
<rect x="852.24" y="654.46" width="4.85" height="3.82" fill="#800000"/>
<rect x="871.62" y="654.46" width="4.85" height="3.82" fill="#00cfff"/>
<rect x="682.65" y="658.29" width="4.85" height="3.82" fill="#00008f"/>
<rect x="750.49" y="658.29" width="24.23" height="3.82" fill="#00008f"/>
<rect x="779.56" y="658.29" width="19.38" height="3.82" fill="#800000"/>
<rect x="658.43" y="662.11" width="14.54" height="3.82" fill="#00008f"/>
<rect x="677.81" y="662.11" width="9.69" height="3.82" fill="#00008f"/>
<rect x="755.33" y="662.11" width="24.23" height="3.82" fill="#00008f"/>
<rect x="784.40" y="662.11" width="14.54" height="3.82" fill="#800000"/>
<rect x="639.05" y="665.93" width="4.85" height="3.82" fill="#00008f"/>
<rect x="648.74" y="665.93" width="4.85" height="3.82" fill="#00008f"/>
<rect x="658.43" y="665.93" width="9.69" height="3.82" fill="#00008f"/>
<rect x="677.81" y="665.93" width="4.85" height="3.82" fill="#00008f"/>
<rect x="760.18" y="665.93" width="24.23" height="3.82" fill="#00008f"/>
<rect x="789.25" y="665.93" width="9.69" height="3.82" fill="#800000"/>
<rect x="765.02" y="669.75" width="24.23" height="3.82" fill="#00008f"/>
<rect x="794.10" y="669.75" width="9.69" height="3.82" fill="#800000"/>
<rect x="769.87" y="673.57" width="24.23" height="3.82" fill="#00008f"/>
<rect x="798.94" y="673.57" width="9.69" height="3.82" fill="#800000"/>
<rect x="639.05" y="677.39" width="4.85" height="3.82" fill="#00008f"/>
<rect x="663.27" y="677.39" width="4.85" height="3.82" fill="#00008f"/>
<rect x="774.71" y="677.39" width="24.23" height="3.82" fill="#00008f"/>
<rect x="803.79" y="677.39" width="9.69" height="3.82" fill="#800000"/>
<rect x="837.70" y="677.39" width="4.85" height="3.82" fill="#00cfff"/>
<rect x="784.40" y="681.21" width="19.38" height="3.82" fill="#00008f"/>
<rect x="808.63" y="681.21" width="9.69" height="3.82" fill="#800000"/>
<rect x="837.70" y="681.21" width="4.85" height="3.82" fill="#00cfff"/>
<rect x="794.10" y="685.04" width="14.54" height="3.82" fill="#00008f"/>
<rect x="813.48" y="685.04" width="9.69" height="3.82" fill="#800000"/>
<rect x="803.79" y="688.86" width="9.69" height="3.82" fill="#00008f"/>
<rect x="818.32" y="688.86" width="9.69" height="3.82" fill="#800000"/>
<rect x="634.20" y="692.68" width="4.85" height="3.82" fill="#00008f"/>
<rect x="803.79" y="692.68" width="14.54" height="3.82" fill="#00008f"/>
<rect x="823.17" y="692.68" width="9.69" height="3.82" fill="#800000"/>
<rect x="629.36" y="696.50" width="14.54" height="3.82" fill="#00008f"/>
<rect x="798.94" y="696.50" width="24.23" height="3.82" fill="#00008f"/>
<rect x="828.01" y="696.50" width="9.69" height="3.82" fill="#800000"/>
<rect x="629.36" y="700.32" width="14.54" height="3.82" fill="#00008f"/>
<rect x="798.94" y="700.32" width="14.54" height="3.82" fill="#00008f"/>
<rect x="823.17" y="700.32" width="4.85" height="3.82" fill="#00008f"/>
<rect x="832.86" y="700.32" width="9.69" height="3.82" fill="#800000"/>
<rect x="609.98" y="704.14" width="4.85" height="3.82" fill="#00008f"/>
<rect x="624.51" y="704.14" width="19.38" height="3.82" fill="#00008f"/>
<rect x="803.79" y="704.14" width="9.69" height="3.82" fill="#00008f"/>
<rect x="823.17" y="704.14" width="9.69" height="3.82" fill="#00008f"/>
<rect x="837.70" y="704.14" width="9.69" height="3.82" fill="#800000"/>
<rect x="609.98" y="707.96" width="4.85" height="3.82" fill="#00008f"/>
<rect x="624.51" y="707.96" width="19.38" height="3.82" fill="#00008f"/>
<rect x="784.40" y="707.96" width="29.07" height="3.82" fill="#00008f"/>
<rect x="823.17" y="707.96" width="14.54" height="3.82" fill="#00008f"/>
<rect x="842.55" y="707.96" width="24.23" height="3.82" fill="#800000"/>
<rect x="784.40" y="711.79" width="9.69" height="3.82" fill="#00008f"/>
<rect x="798.94" y="711.79" width="14.54" height="3.82" fill="#00008f"/>
<rect x="823.17" y="711.79" width="19.38" height="3.82" fill="#00008f"/>
<rect x="847.39" y="711.79" width="24.23" height="3.82" fill="#800000"/>
<rect x="605.13" y="715.61" width="9.69" height="3.82" fill="#00008f"/>
<rect x="624.51" y="715.61" width="4.85" height="3.82" fill="#00008f"/>
<rect x="828.01" y="715.61" width="19.38" height="3.82" fill="#00008f"/>
<rect x="852.24" y="715.61" width="24.23" height="3.82" fill="#800000"/>
<rect x="590.60" y="719.43" width="4.85" height="3.82" fill="#00008f"/>
<rect x="605.13" y="719.43" width="14.54" height="3.82" fill="#00008f"/>
<rect x="624.51" y="719.43" width="4.85" height="3.82" fill="#00008f"/>
<rect x="639.05" y="719.43" width="4.85" height="3.82" fill="#00008f"/>
<rect x="769.87" y="719.43" width="4.85" height="3.82" fill="#00008f"/>
<rect x="784.40" y="719.43" width="9.69" height="3.82" fill="#00008f"/>
<rect x="832.86" y="719.43" width="19.38" height="3.82" fill="#00008f"/>
<rect x="857.08" y="719.43" width="24.23" height="3.82" fill="#800000"/>
<rect x="605.13" y="723.25" width="4.85" height="3.82" fill="#00008f"/>
<rect x="765.02" y="723.25" width="29.07" height="3.82" fill="#00008f"/>
<rect x="803.79" y="723.25" width="4.85" height="3.82" fill="#00008f"/>
<rect x="832.86" y="723.25" width="24.23" height="3.82" fill="#00008f"/>
<rect x="861.93" y="723.25" width="24.23" height="3.82" fill="#800000"/>
<rect x="605.13" y="727.07" width="4.85" height="3.82" fill="#00008f"/>
<rect x="769.87" y="727.07" width="4.85" height="3.82" fill="#00008f"/>
<rect x="784.40" y="727.07" width="9.69" height="3.82" fill="#00008f"/>
<rect x="837.70" y="727.07" width="24.23" height="3.82" fill="#00008f"/>
<rect x="866.77" y="727.07" width="24.23" height="3.82" fill="#800000"/>
<rect x="600.29" y="730.89" width="14.54" height="3.82" fill="#00008f"/>
<rect x="769.87" y="730.89" width="4.85" height="3.82" fill="#00008f"/>
<rect x="842.55" y="730.89" width="24.23" height="3.82" fill="#00008f"/>
<rect x="871.62" y="730.89" width="19.38" height="3.82" fill="#800000"/>
<rect x="585.75" y="734.71" width="9.69" height="3.82" fill="#00008f"/>
<rect x="605.13" y="734.71" width="4.85" height="3.82" fill="#00008f"/>
<rect x="750.49" y="734.71" width="9.69" height="3.82" fill="#00008f"/>
<rect x="765.02" y="734.71" width="9.69" height="3.82" fill="#00008f"/>
<rect x="784.40" y="734.71" width="4.85" height="3.82" fill="#00008f"/>
<rect x="847.39" y="734.71" width="24.23" height="3.82" fill="#00008f"/>
<rect x="876.46" y="734.71" width="14.54" height="3.82" fill="#800000"/>
<rect x="750.49" y="738.54" width="9.69" height="3.82" fill="#00008f"/>
<rect x="769.87" y="738.54" width="4.85" height="3.82" fill="#00008f"/>
<rect x="852.24" y="738.54" width="24.23" height="3.82" fill="#00008f"/>
<rect x="881.31" y="738.54" width="9.69" height="3.82" fill="#800000"/>
<rect x="857.08" y="742.36" width="24.23" height="3.82" fill="#00008f"/>
<rect x="886.15" y="742.36" width="4.85" height="3.82" fill="#800000"/>
<rect x="585.75" y="746.18" width="4.85" height="3.82" fill="#00008f"/>
<rect x="750.49" y="746.18" width="4.85" height="3.82" fill="#00008f"/>
<rect x="861.93" y="746.18" width="24.23" height="3.82" fill="#00008f"/>
<path d="M530.03 750.00v-4M530.03 429.00v4M484.00 465.30h4M891.00 465.30h-4M578.48 750.00v-4M578.48 429.00v4M484.00 503.52h4M891.00 503.52h-4M626.93 750.00v-4M626.93 429.00v4M484.00 541.73h4M891.00 541.73h-4M675.39 750.00v-4M675.39 429.00v4M484.00 579.95h4M891.00 579.95h-4M723.84 750.00v-4M723.84 429.00v4M484.00 618.16h4M891.00 618.16h-4M772.29 750.00v-4M772.29 429.00v4M484.00 656.38h4M891.00 656.38h-4M820.74 750.00v-4M820.74 429.00v4M484.00 694.59h4M891.00 694.59h-4M869.20 750.00v-4M869.20 429.00v4M484.00 732.80h4M891.00 732.80h-4" stroke="#111" stroke-width="1" fill="none"/>
<rect x="484" y="429" width="407" height="321" fill="none" stroke="#444" stroke-width="1"/>
<text x="530.03" y="764.10" text-anchor="middle" class="t">10</text>
<text x="481.00" y="469.60" text-anchor="end" class="t">10</text>
<text x="578.48" y="764.10" text-anchor="middle" class="t">20</text>
<text x="481.00" y="507.82" text-anchor="end" class="t">20</text>
<text x="626.93" y="764.10" text-anchor="middle" class="t">30</text>
<text x="481.00" y="546.03" text-anchor="end" class="t">30</text>
<text x="675.39" y="764.10" text-anchor="middle" class="t">40</text>
<text x="481.00" y="584.25" text-anchor="end" class="t">40</text>
<text x="723.84" y="764.10" text-anchor="middle" class="t">50</text>
<text x="481.00" y="622.46" text-anchor="end" class="t">50</text>
<text x="772.29" y="764.10" text-anchor="middle" class="t">60</text>
<text x="481.00" y="660.67" text-anchor="end" class="t">60</text>
<text x="820.74" y="764.10" text-anchor="middle" class="t">70</text>
<text x="481.00" y="698.89" text-anchor="end" class="t">70</text>
<text x="869.20" y="764.10" text-anchor="middle" class="t">80</text>
<text x="481.00" y="737.10" text-anchor="end" class="t">80</text>
<text x="687.50" y="419.40" text-anchor="middle" class="h">Protein :1r1r</text>
</svg>
</body></html>
